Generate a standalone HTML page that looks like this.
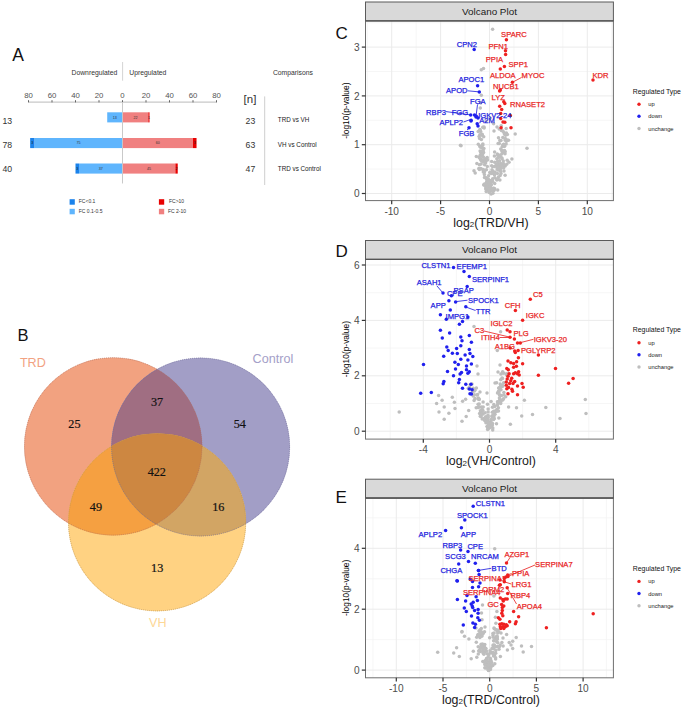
<!DOCTYPE html>
<html><head><meta charset="utf-8"><style>
html,body{margin:0;padding:0;background:#fff;width:685px;height:710px;overflow:hidden}
svg{display:block}

</style></head><body>
<svg width="685" height="710" viewBox="0 0 685 710">
<rect x="0.00" y="0.00" width="685.00" height="710.00" fill="#fff" />
<text x="12.30" y="61.00" font-size="17.5" fill="#111" text-anchor="start" font-family='"Liberation Sans", sans-serif' >A</text>
<text x="71.50" y="74.70" font-size="6.8" fill="#333" text-anchor="start" font-family='"Liberation Sans", sans-serif' >Downregulated</text>
<text x="129.30" y="74.70" font-size="6.8" fill="#333" text-anchor="start" font-family='"Liberation Sans", sans-serif' >Upregulated</text>
<text x="272.90" y="74.70" font-size="6.8" fill="#333" text-anchor="start" font-family='"Liberation Sans", sans-serif' >Comparisons</text>
<line x1="122.60" y1="62.00" x2="122.60" y2="80.70" stroke="#cfcfcf" stroke-width="0.9" />
<line x1="28.50" y1="102.10" x2="216.50" y2="102.10" stroke="#a8a8a8" stroke-width="0.8" />
<line x1="28.50" y1="100.20" x2="28.50" y2="102.40" stroke="#555" stroke-width="0.9" />
<text x="28.50" y="98.00" font-size="7.8" fill="#555" text-anchor="middle" font-family='"Liberation Sans", sans-serif' >80</text>
<line x1="52.00" y1="100.20" x2="52.00" y2="102.40" stroke="#555" stroke-width="0.9" />
<text x="52.00" y="98.00" font-size="7.8" fill="#555" text-anchor="middle" font-family='"Liberation Sans", sans-serif' >60</text>
<line x1="75.50" y1="100.20" x2="75.50" y2="102.40" stroke="#555" stroke-width="0.9" />
<text x="75.50" y="98.00" font-size="7.8" fill="#555" text-anchor="middle" font-family='"Liberation Sans", sans-serif' >40</text>
<line x1="99.00" y1="100.20" x2="99.00" y2="102.40" stroke="#555" stroke-width="0.9" />
<text x="99.00" y="98.00" font-size="7.8" fill="#555" text-anchor="middle" font-family='"Liberation Sans", sans-serif' >20</text>
<line x1="122.50" y1="100.20" x2="122.50" y2="102.40" stroke="#555" stroke-width="0.9" />
<text x="122.50" y="98.00" font-size="7.8" fill="#555" text-anchor="middle" font-family='"Liberation Sans", sans-serif' >0</text>
<line x1="146.00" y1="100.20" x2="146.00" y2="102.40" stroke="#555" stroke-width="0.9" />
<text x="146.00" y="98.00" font-size="7.8" fill="#555" text-anchor="middle" font-family='"Liberation Sans", sans-serif' >20</text>
<line x1="169.50" y1="100.20" x2="169.50" y2="102.40" stroke="#555" stroke-width="0.9" />
<text x="169.50" y="98.00" font-size="7.8" fill="#555" text-anchor="middle" font-family='"Liberation Sans", sans-serif' >40</text>
<line x1="193.00" y1="100.20" x2="193.00" y2="102.40" stroke="#555" stroke-width="0.9" />
<text x="193.00" y="98.00" font-size="7.8" fill="#555" text-anchor="middle" font-family='"Liberation Sans", sans-serif' >60</text>
<line x1="216.50" y1="100.20" x2="216.50" y2="102.40" stroke="#555" stroke-width="0.9" />
<text x="216.50" y="98.00" font-size="7.8" fill="#555" text-anchor="middle" font-family='"Liberation Sans", sans-serif' >80</text>
<line x1="122.50" y1="102.00" x2="122.50" y2="183.30" stroke="#c8c8c8" stroke-width="0.9" />
<rect x="107.22" y="112.30" width="15.28" height="10.10" fill="#5fb5fd" />
<rect x="122.50" y="112.30" width="25.85" height="10.10" fill="#f08080" />
<rect x="148.35" y="112.30" width="1.18" height="10.10" fill="#e80000" />
<text x="114.86" y="118.65" font-size="3.6" fill="#333" text-anchor="middle" font-family='"Liberation Sans", sans-serif' >13</text>
<text x="135.43" y="118.65" font-size="3.6" fill="#333" text-anchor="middle" font-family='"Liberation Sans", sans-serif' >22</text>
<text x="148.94" y="118.65" font-size="3.6" fill="#222" text-anchor="middle" font-family='"Liberation Sans", sans-serif' >1</text>
<rect x="34.38" y="138.00" width="88.12" height="10.10" fill="#5fb5fd" />
<rect x="30.15" y="138.00" width="4.23" height="10.10" fill="#1a82eb" />
<rect x="122.50" y="138.00" width="70.50" height="10.10" fill="#f08080" />
<rect x="193.00" y="138.00" width="3.53" height="10.10" fill="#e80000" />
<text x="78.44" y="144.35" font-size="3.6" fill="#333" text-anchor="middle" font-family='"Liberation Sans", sans-serif' >75</text>
<text x="157.75" y="144.35" font-size="3.6" fill="#333" text-anchor="middle" font-family='"Liberation Sans", sans-serif' >60</text>
<text x="32.26" y="144.35" font-size="3.6" fill="#222" text-anchor="middle" font-family='"Liberation Sans", sans-serif' >3</text>
<text x="194.76" y="144.35" font-size="3.6" fill="#222" text-anchor="middle" font-family='"Liberation Sans", sans-serif' >3</text>
<rect x="79.03" y="163.50" width="43.48" height="10.10" fill="#5fb5fd" />
<rect x="75.50" y="163.50" width="3.53" height="10.10" fill="#1a82eb" />
<rect x="122.50" y="163.50" width="52.88" height="10.10" fill="#f08080" />
<rect x="175.38" y="163.50" width="2.35" height="10.10" fill="#e80000" />
<text x="100.76" y="169.85" font-size="3.6" fill="#333" text-anchor="middle" font-family='"Liberation Sans", sans-serif' >37</text>
<text x="148.94" y="169.85" font-size="3.6" fill="#333" text-anchor="middle" font-family='"Liberation Sans", sans-serif' >45</text>
<text x="77.26" y="169.85" font-size="3.6" fill="#222" text-anchor="middle" font-family='"Liberation Sans", sans-serif' >3</text>
<text x="176.55" y="169.85" font-size="3.6" fill="#222" text-anchor="middle" font-family='"Liberation Sans", sans-serif' >2</text>
<line x1="122.50" y1="102.00" x2="122.50" y2="183.30" stroke="#c8c8c8" stroke-width="0.9" />
<text x="2.40" y="124.00" font-size="8.7" fill="#333" text-anchor="start" font-family='"Liberation Sans", sans-serif' >13</text>
<text x="2.40" y="147.90" font-size="8.7" fill="#333" text-anchor="start" font-family='"Liberation Sans", sans-serif' >78</text>
<text x="2.40" y="172.00" font-size="8.7" fill="#333" text-anchor="start" font-family='"Liberation Sans", sans-serif' >40</text>
<text x="243.60" y="103.00" font-size="11.5" fill="#333" text-anchor="start" font-family='"Liberation Sans", sans-serif' >[n]</text>
<line x1="264.70" y1="96.40" x2="264.70" y2="185.00" stroke="#c8c8c8" stroke-width="0.9" />
<text x="245.60" y="123.60" font-size="8.7" fill="#333" text-anchor="start" font-family='"Liberation Sans", sans-serif' >23</text>
<text x="245.60" y="148.20" font-size="8.7" fill="#333" text-anchor="start" font-family='"Liberation Sans", sans-serif' >63</text>
<text x="245.60" y="171.90" font-size="8.7" fill="#333" text-anchor="start" font-family='"Liberation Sans", sans-serif' >47</text>
<text x="277.80" y="122.30" font-size="6.3" fill="#222" text-anchor="start" font-family='"Liberation Sans", sans-serif' >TRD vs VH</text>
<text x="277.80" y="147.30" font-size="6.3" fill="#222" text-anchor="start" font-family='"Liberation Sans", sans-serif' >VH vs Control</text>
<text x="277.80" y="170.80" font-size="6.3" fill="#222" text-anchor="start" font-family='"Liberation Sans", sans-serif' >TRD vs Control</text>
<rect x="69.60" y="199.20" width="5.20" height="5.50" fill="#1a82eb" />
<rect x="69.60" y="208.80" width="5.20" height="5.50" fill="#5fb5fd" />
<rect x="158.90" y="199.20" width="5.30" height="5.50" fill="#e80000" />
<rect x="158.90" y="208.80" width="5.30" height="5.50" fill="#f08080" />
<text x="78.80" y="203.30" font-size="5.0" fill="#333" text-anchor="start" font-family='"Liberation Sans", sans-serif' >FC&lt;0.1</text>
<text x="78.80" y="212.90" font-size="5.0" fill="#333" text-anchor="start" font-family='"Liberation Sans", sans-serif' >FC 0.1-0.5</text>
<text x="169.00" y="203.30" font-size="5.0" fill="#333" text-anchor="start" font-family='"Liberation Sans", sans-serif' >FC&gt;10</text>
<text x="168.00" y="212.90" font-size="5.0" fill="#333" text-anchor="start" font-family='"Liberation Sans", sans-serif' >FC 2-10</text>
<text x="17.40" y="341.00" font-size="16.5" fill="#111" text-anchor="start" font-family='"Liberation Sans", sans-serif' >B</text>
<defs>
<clipPath id="cT"><circle cx="113.2" cy="446.4" r="89.0"/></clipPath>
<clipPath id="cK"><circle cx="200.6" cy="447.0" r="89.3"/></clipPath>
<clipPath id="cTK" clip-path="url(#cT)"><circle cx="200.6" cy="447.0" r="89.3"/></clipPath>
</defs>
<circle cx="113.2" cy="446.4" r="89.0" fill="#f2a280"/>
<circle cx="200.6" cy="447.0" r="89.3" fill="#a29ec6"/>
<circle cx="157.1" cy="522.3" r="88.9" fill="#ffd282"/>
<circle cx="200.6" cy="447.0" r="89.3" fill="#a06e82" clip-path="url(#cT)"/>
<circle cx="157.1" cy="522.3" r="88.9" fill="#f5a041" clip-path="url(#cT)"/>
<circle cx="157.1" cy="522.3" r="88.9" fill="#d2a564" clip-path="url(#cK)"/>
<circle cx="157.1" cy="522.3" r="88.9" fill="#cd8741" clip-path="url(#cTK)"/>
<circle cx="113.2" cy="446.4" r="88.7" fill="none" stroke="#b07060" stroke-width="0.7" stroke-dasharray="1 1" opacity="0.9"/>
<circle cx="200.6" cy="447.0" r="89.0" fill="none" stroke="#706c98" stroke-width="0.7" stroke-dasharray="1 1" opacity="0.9"/>
<circle cx="157.1" cy="522.3" r="88.60000000000001" fill="none" stroke="#b89050" stroke-width="0.7" stroke-dasharray="1 1" opacity="0.9"/>
<text x="19.90" y="367.20" font-size="12.6" fill="#f2a282" text-anchor="start" font-family='"Liberation Sans", sans-serif' >TRD</text>
<text x="252.60" y="362.70" font-size="12.6" fill="#a4a0c8" text-anchor="start" font-family='"Liberation Sans", sans-serif' >Control</text>
<text x="149.00" y="627.00" font-size="12.6" fill="#fdd796" text-anchor="start" font-family='"Liberation Sans", sans-serif' >VH</text>
<text x="74.40" y="428.20" font-size="12.2" fill="#111" text-anchor="middle" font-family='"Liberation Serif", serif' stroke="#111" stroke-width="0.2">25</text>
<text x="157.00" y="405.80" font-size="12.2" fill="#111" text-anchor="middle" font-family='"Liberation Serif", serif' stroke="#111" stroke-width="0.2">37</text>
<text x="239.80" y="428.40" font-size="12.2" fill="#111" text-anchor="middle" font-family='"Liberation Serif", serif' stroke="#111" stroke-width="0.2">54</text>
<text x="156.80" y="476.10" font-size="12.2" fill="#111" text-anchor="middle" font-family='"Liberation Serif", serif' stroke="#111" stroke-width="0.2">422</text>
<text x="95.90" y="510.70" font-size="12.2" fill="#111" text-anchor="middle" font-family='"Liberation Serif", serif' stroke="#111" stroke-width="0.2">49</text>
<text x="218.30" y="510.70" font-size="12.2" fill="#111" text-anchor="middle" font-family='"Liberation Serif", serif' stroke="#111" stroke-width="0.2">16</text>
<text x="157.20" y="571.60" font-size="12.2" fill="#111" text-anchor="middle" font-family='"Liberation Serif", serif' stroke="#111" stroke-width="0.2">13</text>
<rect x="365.50" y="20.80" width="247.90" height="179.80" fill="#fff" />
<line x1="365.50" y1="169.10" x2="613.40" y2="169.10" stroke="#f2f2f2" stroke-width="0.7" />
<line x1="365.50" y1="120.30" x2="613.40" y2="120.30" stroke="#f2f2f2" stroke-width="0.7" />
<line x1="365.50" y1="71.50" x2="613.40" y2="71.50" stroke="#f2f2f2" stroke-width="0.7" />
<line x1="365.50" y1="22.70" x2="613.40" y2="22.70" stroke="#f2f2f2" stroke-width="0.7" />
<line x1="367.25" y1="20.80" x2="367.25" y2="200.60" stroke="#f2f2f2" stroke-width="0.7" />
<line x1="416.15" y1="20.80" x2="416.15" y2="200.60" stroke="#f2f2f2" stroke-width="0.7" />
<line x1="465.05" y1="20.80" x2="465.05" y2="200.60" stroke="#f2f2f2" stroke-width="0.7" />
<line x1="513.95" y1="20.80" x2="513.95" y2="200.60" stroke="#f2f2f2" stroke-width="0.7" />
<line x1="562.85" y1="20.80" x2="562.85" y2="200.60" stroke="#f2f2f2" stroke-width="0.7" />
<line x1="611.75" y1="20.80" x2="611.75" y2="200.60" stroke="#f2f2f2" stroke-width="0.7" />
<line x1="365.50" y1="193.50" x2="613.40" y2="193.50" stroke="#ebebeb" stroke-width="1.0" />
<line x1="365.50" y1="144.70" x2="613.40" y2="144.70" stroke="#ebebeb" stroke-width="1.0" />
<line x1="365.50" y1="95.90" x2="613.40" y2="95.90" stroke="#ebebeb" stroke-width="1.0" />
<line x1="365.50" y1="47.10" x2="613.40" y2="47.10" stroke="#ebebeb" stroke-width="1.0" />
<line x1="391.70" y1="20.80" x2="391.70" y2="200.60" stroke="#ebebeb" stroke-width="1.0" />
<line x1="440.60" y1="20.80" x2="440.60" y2="200.60" stroke="#ebebeb" stroke-width="1.0" />
<line x1="489.50" y1="20.80" x2="489.50" y2="200.60" stroke="#ebebeb" stroke-width="1.0" />
<line x1="538.40" y1="20.80" x2="538.40" y2="200.60" stroke="#ebebeb" stroke-width="1.0" />
<line x1="587.30" y1="20.80" x2="587.30" y2="200.60" stroke="#ebebeb" stroke-width="1.0" />
<circle cx="478.8" cy="168.6" r="1.75" fill="#bebebe"/>
<circle cx="480.2" cy="168.6" r="1.75" fill="#bebebe"/>
<circle cx="484.6" cy="184.6" r="1.75" fill="#bebebe"/>
<circle cx="482.6" cy="145.3" r="1.75" fill="#bebebe"/>
<circle cx="489.7" cy="187.2" r="1.75" fill="#bebebe"/>
<circle cx="494.1" cy="190.2" r="1.75" fill="#bebebe"/>
<circle cx="481.0" cy="154.9" r="1.75" fill="#bebebe"/>
<circle cx="488.8" cy="191.2" r="1.75" fill="#bebebe"/>
<circle cx="487.2" cy="184.7" r="1.75" fill="#bebebe"/>
<circle cx="479.4" cy="169.5" r="1.75" fill="#bebebe"/>
<circle cx="481.1" cy="164.0" r="1.75" fill="#bebebe"/>
<circle cx="480.3" cy="155.0" r="1.75" fill="#bebebe"/>
<circle cx="484.1" cy="128.1" r="1.75" fill="#bebebe"/>
<circle cx="481.0" cy="152.1" r="1.75" fill="#bebebe"/>
<circle cx="488.4" cy="180.1" r="1.75" fill="#bebebe"/>
<circle cx="484.4" cy="171.9" r="1.75" fill="#bebebe"/>
<circle cx="480.7" cy="131.5" r="1.75" fill="#bebebe"/>
<circle cx="488.6" cy="182.8" r="1.75" fill="#bebebe"/>
<circle cx="480.0" cy="129.9" r="1.75" fill="#bebebe"/>
<circle cx="482.3" cy="156.3" r="1.75" fill="#bebebe"/>
<circle cx="486.2" cy="191.5" r="1.75" fill="#bebebe"/>
<circle cx="482.4" cy="148.1" r="1.75" fill="#bebebe"/>
<circle cx="491.6" cy="189.1" r="1.75" fill="#bebebe"/>
<circle cx="485.4" cy="184.6" r="1.75" fill="#bebebe"/>
<circle cx="487.0" cy="183.8" r="1.75" fill="#bebebe"/>
<circle cx="483.4" cy="156.9" r="1.75" fill="#bebebe"/>
<circle cx="486.1" cy="186.3" r="1.75" fill="#bebebe"/>
<circle cx="479.9" cy="146.2" r="1.75" fill="#bebebe"/>
<circle cx="483.9" cy="184.8" r="1.75" fill="#bebebe"/>
<circle cx="486.6" cy="158.3" r="1.75" fill="#bebebe"/>
<circle cx="486.6" cy="185.2" r="1.75" fill="#bebebe"/>
<circle cx="484.5" cy="177.5" r="1.75" fill="#bebebe"/>
<circle cx="487.4" cy="188.4" r="1.75" fill="#bebebe"/>
<circle cx="480.7" cy="160.1" r="1.75" fill="#bebebe"/>
<circle cx="478.2" cy="131.6" r="1.75" fill="#bebebe"/>
<circle cx="481.4" cy="139.6" r="1.75" fill="#bebebe"/>
<circle cx="481.4" cy="134.8" r="1.75" fill="#bebebe"/>
<circle cx="486.8" cy="181.7" r="1.75" fill="#bebebe"/>
<circle cx="490.8" cy="183.4" r="1.75" fill="#bebebe"/>
<circle cx="481.3" cy="159.3" r="1.75" fill="#bebebe"/>
<circle cx="490.6" cy="190.4" r="1.75" fill="#bebebe"/>
<circle cx="481.5" cy="153.7" r="1.75" fill="#bebebe"/>
<circle cx="481.8" cy="160.3" r="1.75" fill="#bebebe"/>
<circle cx="482.8" cy="150.8" r="1.75" fill="#bebebe"/>
<circle cx="483.9" cy="160.9" r="1.75" fill="#bebebe"/>
<circle cx="486.7" cy="179.4" r="1.75" fill="#bebebe"/>
<circle cx="489.2" cy="192.4" r="1.75" fill="#bebebe"/>
<circle cx="489.8" cy="190.9" r="1.75" fill="#bebebe"/>
<circle cx="483.5" cy="162.1" r="1.75" fill="#bebebe"/>
<circle cx="483.7" cy="136.8" r="1.75" fill="#bebebe"/>
<circle cx="480.8" cy="152.3" r="1.75" fill="#bebebe"/>
<circle cx="493.4" cy="191.0" r="1.75" fill="#bebebe"/>
<circle cx="482.0" cy="151.8" r="1.75" fill="#bebebe"/>
<circle cx="478.9" cy="156.9" r="1.75" fill="#bebebe"/>
<circle cx="485.6" cy="177.6" r="1.75" fill="#bebebe"/>
<circle cx="482.1" cy="160.7" r="1.75" fill="#bebebe"/>
<circle cx="480.5" cy="147.2" r="1.75" fill="#bebebe"/>
<circle cx="479.1" cy="136.4" r="1.75" fill="#bebebe"/>
<circle cx="482.2" cy="135.3" r="1.75" fill="#bebebe"/>
<circle cx="482.9" cy="143.9" r="1.75" fill="#bebebe"/>
<circle cx="480.2" cy="158.5" r="1.75" fill="#bebebe"/>
<circle cx="484.5" cy="159.5" r="1.75" fill="#bebebe"/>
<circle cx="482.8" cy="127.3" r="1.75" fill="#bebebe"/>
<circle cx="483.3" cy="172.1" r="1.75" fill="#bebebe"/>
<circle cx="483.3" cy="169.9" r="1.75" fill="#bebebe"/>
<circle cx="483.9" cy="148.4" r="1.75" fill="#bebebe"/>
<circle cx="483.1" cy="169.4" r="1.75" fill="#bebebe"/>
<circle cx="479.4" cy="164.8" r="1.75" fill="#bebebe"/>
<circle cx="487.6" cy="181.1" r="1.75" fill="#bebebe"/>
<circle cx="482.1" cy="154.3" r="1.75" fill="#bebebe"/>
<circle cx="479.8" cy="134.8" r="1.75" fill="#bebebe"/>
<circle cx="479.6" cy="138.4" r="1.75" fill="#bebebe"/>
<circle cx="483.9" cy="184.9" r="1.75" fill="#bebebe"/>
<circle cx="482.2" cy="134.3" r="1.75" fill="#bebebe"/>
<circle cx="481.8" cy="161.1" r="1.75" fill="#bebebe"/>
<circle cx="484.6" cy="164.7" r="1.75" fill="#bebebe"/>
<circle cx="483.0" cy="150.8" r="1.75" fill="#bebebe"/>
<circle cx="486.0" cy="185.7" r="1.75" fill="#bebebe"/>
<circle cx="484.5" cy="184.1" r="1.75" fill="#bebebe"/>
<circle cx="481.2" cy="168.7" r="1.75" fill="#bebebe"/>
<circle cx="479.9" cy="129.6" r="1.75" fill="#bebebe"/>
<circle cx="489.7" cy="190.6" r="1.75" fill="#bebebe"/>
<circle cx="480.1" cy="150.9" r="1.75" fill="#bebebe"/>
<circle cx="482.3" cy="145.0" r="1.75" fill="#bebebe"/>
<circle cx="486.4" cy="169.7" r="1.75" fill="#bebebe"/>
<circle cx="486.7" cy="182.3" r="1.75" fill="#bebebe"/>
<circle cx="479.5" cy="157.7" r="1.75" fill="#bebebe"/>
<circle cx="483.6" cy="152.6" r="1.75" fill="#bebebe"/>
<circle cx="482.4" cy="154.3" r="1.75" fill="#bebebe"/>
<circle cx="489.5" cy="185.1" r="1.75" fill="#bebebe"/>
<circle cx="502.9" cy="152.4" r="1.75" fill="#bebebe"/>
<circle cx="494.2" cy="173.9" r="1.75" fill="#bebebe"/>
<circle cx="500.2" cy="156.5" r="1.75" fill="#bebebe"/>
<circle cx="503.8" cy="144.6" r="1.75" fill="#bebebe"/>
<circle cx="503.9" cy="132.6" r="1.75" fill="#bebebe"/>
<circle cx="492.6" cy="166.5" r="1.75" fill="#bebebe"/>
<circle cx="490.2" cy="172.6" r="1.75" fill="#bebebe"/>
<circle cx="506.1" cy="143.9" r="1.75" fill="#bebebe"/>
<circle cx="502.1" cy="158.7" r="1.75" fill="#bebebe"/>
<circle cx="499.8" cy="140.6" r="1.75" fill="#bebebe"/>
<circle cx="499.9" cy="180.1" r="1.75" fill="#bebebe"/>
<circle cx="499.2" cy="129.1" r="1.75" fill="#bebebe"/>
<circle cx="500.2" cy="175.5" r="1.75" fill="#bebebe"/>
<circle cx="498.5" cy="177.0" r="1.75" fill="#bebebe"/>
<circle cx="499.5" cy="160.7" r="1.75" fill="#bebebe"/>
<circle cx="490.2" cy="190.3" r="1.75" fill="#bebebe"/>
<circle cx="504.1" cy="145.9" r="1.75" fill="#bebebe"/>
<circle cx="503.8" cy="146.2" r="1.75" fill="#bebebe"/>
<circle cx="497.5" cy="161.6" r="1.75" fill="#bebebe"/>
<circle cx="504.9" cy="152.1" r="1.75" fill="#bebebe"/>
<circle cx="506.4" cy="133.0" r="1.75" fill="#bebebe"/>
<circle cx="497.4" cy="167.6" r="1.75" fill="#bebebe"/>
<circle cx="494.4" cy="156.1" r="1.75" fill="#bebebe"/>
<circle cx="498.0" cy="164.0" r="1.75" fill="#bebebe"/>
<circle cx="505.0" cy="140.0" r="1.75" fill="#bebebe"/>
<circle cx="507.1" cy="139.9" r="1.75" fill="#bebebe"/>
<circle cx="500.6" cy="163.6" r="1.75" fill="#bebebe"/>
<circle cx="497.7" cy="165.9" r="1.75" fill="#bebebe"/>
<circle cx="501.4" cy="130.4" r="1.75" fill="#bebebe"/>
<circle cx="499.3" cy="143.4" r="1.75" fill="#bebebe"/>
<circle cx="505.0" cy="153.7" r="1.75" fill="#bebebe"/>
<circle cx="504.0" cy="170.9" r="1.75" fill="#bebebe"/>
<circle cx="492.1" cy="180.5" r="1.75" fill="#bebebe"/>
<circle cx="500.0" cy="167.0" r="1.75" fill="#bebebe"/>
<circle cx="497.1" cy="169.1" r="1.75" fill="#bebebe"/>
<circle cx="501.7" cy="157.7" r="1.75" fill="#bebebe"/>
<circle cx="504.6" cy="146.2" r="1.75" fill="#bebebe"/>
<circle cx="491.8" cy="181.0" r="1.75" fill="#bebebe"/>
<circle cx="494.5" cy="174.9" r="1.75" fill="#bebebe"/>
<circle cx="504.8" cy="151.4" r="1.75" fill="#bebebe"/>
<circle cx="494.7" cy="183.6" r="1.75" fill="#bebebe"/>
<circle cx="495.0" cy="172.0" r="1.75" fill="#bebebe"/>
<circle cx="499.9" cy="165.5" r="1.75" fill="#bebebe"/>
<circle cx="497.8" cy="155.4" r="1.75" fill="#bebebe"/>
<circle cx="498.5" cy="137.8" r="1.75" fill="#bebebe"/>
<circle cx="492.7" cy="178.8" r="1.75" fill="#bebebe"/>
<circle cx="502.8" cy="137.6" r="1.75" fill="#bebebe"/>
<circle cx="506.4" cy="141.2" r="1.75" fill="#bebebe"/>
<circle cx="505.3" cy="138.4" r="1.75" fill="#bebebe"/>
<circle cx="501.9" cy="151.0" r="1.75" fill="#bebebe"/>
<circle cx="498.1" cy="143.4" r="1.75" fill="#bebebe"/>
<circle cx="487.1" cy="189.0" r="1.75" fill="#bebebe"/>
<circle cx="491.1" cy="193.9" r="1.75" fill="#bebebe"/>
<circle cx="505.5" cy="135.2" r="1.75" fill="#bebebe"/>
<circle cx="498.6" cy="163.7" r="1.75" fill="#bebebe"/>
<circle cx="501.7" cy="153.9" r="1.75" fill="#bebebe"/>
<circle cx="494.7" cy="188.7" r="1.75" fill="#bebebe"/>
<circle cx="496.9" cy="164.9" r="1.75" fill="#bebebe"/>
<circle cx="493.9" cy="188.2" r="1.75" fill="#bebebe"/>
<circle cx="506.2" cy="128.4" r="1.75" fill="#bebebe"/>
<circle cx="493.5" cy="189.2" r="1.75" fill="#bebebe"/>
<circle cx="500.7" cy="149.1" r="1.75" fill="#bebebe"/>
<circle cx="494.6" cy="166.4" r="1.75" fill="#bebebe"/>
<circle cx="487.7" cy="187.7" r="1.75" fill="#bebebe"/>
<circle cx="487.0" cy="185.7" r="1.75" fill="#bebebe"/>
<circle cx="497.4" cy="173.6" r="1.75" fill="#bebebe"/>
<circle cx="505.2" cy="165.9" r="1.75" fill="#bebebe"/>
<circle cx="501.0" cy="140.6" r="1.75" fill="#bebebe"/>
<circle cx="496.8" cy="158.8" r="1.75" fill="#bebebe"/>
<circle cx="504.1" cy="165.7" r="1.75" fill="#bebebe"/>
<circle cx="498.0" cy="179.3" r="1.75" fill="#bebebe"/>
<circle cx="503.8" cy="144.3" r="1.75" fill="#bebebe"/>
<circle cx="507.4" cy="134.6" r="1.75" fill="#bebebe"/>
<circle cx="502.7" cy="145.0" r="1.75" fill="#bebebe"/>
<circle cx="504.6" cy="151.2" r="1.75" fill="#bebebe"/>
<circle cx="500.8" cy="168.6" r="1.75" fill="#bebebe"/>
<circle cx="498.8" cy="155.6" r="1.75" fill="#bebebe"/>
<circle cx="502.9" cy="131.1" r="1.75" fill="#bebebe"/>
<circle cx="497.3" cy="154.1" r="1.75" fill="#bebebe"/>
<circle cx="501.0" cy="173.5" r="1.75" fill="#bebebe"/>
<circle cx="502.2" cy="146.7" r="1.75" fill="#bebebe"/>
<circle cx="485.7" cy="189.0" r="1.75" fill="#bebebe"/>
<circle cx="492.7" cy="181.4" r="1.75" fill="#bebebe"/>
<circle cx="491.3" cy="184.8" r="1.75" fill="#bebebe"/>
<circle cx="496.8" cy="180.0" r="1.75" fill="#bebebe"/>
<circle cx="502.5" cy="165.3" r="1.75" fill="#bebebe"/>
<circle cx="501.2" cy="125.7" r="1.75" fill="#bebebe"/>
<circle cx="485.9" cy="187.5" r="1.75" fill="#bebebe"/>
<circle cx="491.6" cy="189.9" r="1.75" fill="#bebebe"/>
<circle cx="499.7" cy="170.2" r="1.75" fill="#bebebe"/>
<circle cx="507.2" cy="160.3" r="1.75" fill="#bebebe"/>
<circle cx="492.8" cy="171.2" r="1.75" fill="#bebebe"/>
<circle cx="494.8" cy="177.7" r="1.75" fill="#bebebe"/>
<circle cx="498.2" cy="165.2" r="1.75" fill="#bebebe"/>
<circle cx="496.7" cy="179.0" r="1.75" fill="#bebebe"/>
<circle cx="492.9" cy="193.2" r="1.75" fill="#bebebe"/>
<circle cx="500.7" cy="171.6" r="1.75" fill="#bebebe"/>
<circle cx="497.7" cy="189.9" r="1.75" fill="#bebebe"/>
<circle cx="493.1" cy="188.3" r="1.75" fill="#bebebe"/>
<circle cx="500.3" cy="167.6" r="1.75" fill="#bebebe"/>
<circle cx="503.4" cy="163.6" r="1.75" fill="#bebebe"/>
<circle cx="503.6" cy="168.0" r="1.75" fill="#bebebe"/>
<circle cx="503.3" cy="160.9" r="1.75" fill="#bebebe"/>
<circle cx="497.9" cy="169.9" r="1.75" fill="#bebebe"/>
<circle cx="501.2" cy="165.9" r="1.75" fill="#bebebe"/>
<circle cx="498.6" cy="154.9" r="1.75" fill="#bebebe"/>
<circle cx="494.7" cy="162.3" r="1.75" fill="#bebebe"/>
<circle cx="506.7" cy="164.2" r="1.75" fill="#bebebe"/>
<circle cx="502.2" cy="150.5" r="1.75" fill="#bebebe"/>
<circle cx="504.7" cy="134.3" r="1.75" fill="#bebebe"/>
<circle cx="488.0" cy="180.3" r="1.75" fill="#bebebe"/>
<circle cx="492.0" cy="169.8" r="1.75" fill="#bebebe"/>
<circle cx="485.6" cy="163.1" r="1.75" fill="#bebebe"/>
<circle cx="498.6" cy="157.4" r="1.75" fill="#bebebe"/>
<circle cx="489.3" cy="190.8" r="1.75" fill="#bebebe"/>
<circle cx="484.3" cy="170.5" r="1.75" fill="#bebebe"/>
<circle cx="484.4" cy="174.5" r="1.75" fill="#bebebe"/>
<circle cx="491.7" cy="173.6" r="1.75" fill="#bebebe"/>
<circle cx="489.6" cy="180.5" r="1.75" fill="#bebebe"/>
<circle cx="496.3" cy="164.4" r="1.75" fill="#bebebe"/>
<circle cx="489.2" cy="190.6" r="1.75" fill="#bebebe"/>
<circle cx="485.9" cy="161.0" r="1.75" fill="#bebebe"/>
<circle cx="487.5" cy="178.6" r="1.75" fill="#bebebe"/>
<circle cx="497.7" cy="167.1" r="1.75" fill="#bebebe"/>
<circle cx="490.1" cy="182.0" r="1.75" fill="#bebebe"/>
<circle cx="488.6" cy="175.8" r="1.75" fill="#bebebe"/>
<circle cx="490.1" cy="189.9" r="1.75" fill="#bebebe"/>
<circle cx="489.8" cy="172.5" r="1.75" fill="#bebebe"/>
<circle cx="487.3" cy="166.5" r="1.75" fill="#bebebe"/>
<circle cx="490.3" cy="185.7" r="1.75" fill="#bebebe"/>
<circle cx="489.3" cy="189.7" r="1.75" fill="#bebebe"/>
<circle cx="487.7" cy="182.1" r="1.75" fill="#bebebe"/>
<circle cx="491.5" cy="180.5" r="1.75" fill="#bebebe"/>
<circle cx="491.6" cy="165.7" r="1.75" fill="#bebebe"/>
<circle cx="499.8" cy="155.4" r="1.75" fill="#bebebe"/>
<circle cx="487.5" cy="160.0" r="1.75" fill="#bebebe"/>
<circle cx="489.1" cy="184.3" r="1.75" fill="#bebebe"/>
<circle cx="489.0" cy="184.0" r="1.75" fill="#bebebe"/>
<circle cx="488.7" cy="179.8" r="1.75" fill="#bebebe"/>
<circle cx="489.8" cy="187.3" r="1.75" fill="#bebebe"/>
<circle cx="491.6" cy="161.5" r="1.75" fill="#bebebe"/>
<circle cx="490.4" cy="186.1" r="1.75" fill="#bebebe"/>
<circle cx="487.2" cy="157.6" r="1.75" fill="#bebebe"/>
<circle cx="490.9" cy="173.3" r="1.75" fill="#bebebe"/>
<circle cx="494.6" cy="152.0" r="1.75" fill="#bebebe"/>
<circle cx="493.8" cy="172.7" r="1.75" fill="#bebebe"/>
<circle cx="489.1" cy="189.7" r="1.75" fill="#bebebe"/>
<circle cx="489.7" cy="187.7" r="1.75" fill="#bebebe"/>
<circle cx="490.2" cy="187.8" r="1.75" fill="#bebebe"/>
<circle cx="490.7" cy="185.2" r="1.75" fill="#bebebe"/>
<circle cx="492.6" cy="29.2" r="1.75" fill="#bebebe"/>
<circle cx="481.3" cy="69.7" r="1.75" fill="#bebebe"/>
<circle cx="483.5" cy="68.6" r="1.75" fill="#bebebe"/>
<circle cx="481.3" cy="95.2" r="1.75" fill="#bebebe"/>
<circle cx="480.6" cy="102.8" r="1.75" fill="#bebebe"/>
<circle cx="480.3" cy="108.0" r="1.75" fill="#bebebe"/>
<circle cx="493.6" cy="123.7" r="1.75" fill="#bebebe"/>
<circle cx="527.0" cy="148.2" r="1.75" fill="#bebebe"/>
<circle cx="515.2" cy="134.1" r="1.75" fill="#bebebe"/>
<circle cx="461.0" cy="145.7" r="1.75" fill="#bebebe"/>
<circle cx="476.3" cy="156.6" r="1.75" fill="#bebebe"/>
<circle cx="476.9" cy="163.4" r="1.75" fill="#bebebe"/>
<circle cx="474.0" cy="170.7" r="1.75" fill="#bebebe"/>
<circle cx="475.2" cy="173.0" r="1.75" fill="#bebebe"/>
<circle cx="509.0" cy="162.3" r="1.75" fill="#bebebe"/>
<circle cx="511.9" cy="158.9" r="1.75" fill="#bebebe"/>
<circle cx="505.1" cy="175.2" r="1.75" fill="#bebebe"/>
<circle cx="508.5" cy="140.3" r="1.75" fill="#bebebe"/>
<circle cx="506.2" cy="140.3" r="1.75" fill="#bebebe"/>
<circle cx="504.5" cy="150.4" r="1.75" fill="#bebebe"/>
<circle cx="478.3" cy="144.2" r="1.75" fill="#bebebe"/>
<circle cx="460.5" cy="145.2" r="1.75" fill="#bebebe"/>
<circle cx="486.0" cy="121.0" r="1.75" fill="#bebebe"/>
<circle cx="490.0" cy="118.0" r="1.75" fill="#bebebe"/>
<circle cx="494.0" cy="131.0" r="1.75" fill="#bebebe"/>
<circle cx="484.0" cy="127.0" r="1.75" fill="#bebebe"/>
<circle cx="497.0" cy="127.0" r="1.75" fill="#bebebe"/>
<line x1="467.80" y1="90.80" x2="479.30" y2="91.90" stroke="#2222dd" stroke-width="0.85" />
<line x1="446.00" y1="111.60" x2="471.00" y2="115.00" stroke="#2222dd" stroke-width="0.85" />
<line x1="477.50" y1="104.50" x2="476.00" y2="116.50" stroke="#2222dd" stroke-width="0.85" />
<line x1="463.50" y1="122.00" x2="470.50" y2="119.50" stroke="#2222dd" stroke-width="0.85" />
<line x1="467.00" y1="130.00" x2="469.50" y2="128.00" stroke="#2222dd" stroke-width="0.85" />
<line x1="521.50" y1="77.50" x2="512.40" y2="82.30" stroke="#e82626" stroke-width="0.85" />
<circle cx="474.2" cy="49.6" r="1.75" fill="#2020ee"/>
<circle cx="477.6" cy="85.8" r="1.75" fill="#2020ee"/>
<circle cx="479.3" cy="91.9" r="1.75" fill="#2020ee"/>
<circle cx="470.7" cy="114.9" r="1.75" fill="#2020ee"/>
<circle cx="474.5" cy="115.0" r="1.75" fill="#2020ee"/>
<circle cx="476.0" cy="117.0" r="1.75" fill="#2020ee"/>
<circle cx="478.0" cy="118.0" r="1.75" fill="#2020ee"/>
<circle cx="471.0" cy="121.0" r="1.75" fill="#2020ee"/>
<circle cx="471.1" cy="120.2" r="1.75" fill="#2020ee"/>
<circle cx="469.0" cy="127.8" r="1.75" fill="#2020ee"/>
<circle cx="477.2" cy="123.7" r="1.75" fill="#2020ee"/>
<circle cx="478.0" cy="126.0" r="1.75" fill="#2020ee"/>
<circle cx="476.3" cy="116.2" r="1.75" fill="#2020ee"/>
<circle cx="506.4" cy="39.8" r="1.75" fill="#ee2020"/>
<circle cx="505.5" cy="50.8" r="1.75" fill="#ee2020"/>
<circle cx="505.6" cy="54.6" r="1.75" fill="#ee2020"/>
<circle cx="504.4" cy="66.6" r="1.75" fill="#ee2020"/>
<circle cx="500.3" cy="69.0" r="1.75" fill="#ee2020"/>
<circle cx="512.4" cy="82.3" r="1.75" fill="#ee2020"/>
<circle cx="500.3" cy="90.1" r="1.75" fill="#ee2020"/>
<circle cx="503.8" cy="101.7" r="1.75" fill="#ee2020"/>
<circle cx="504.8" cy="103.4" r="1.75" fill="#ee2020"/>
<circle cx="499.7" cy="106.2" r="1.75" fill="#ee2020"/>
<circle cx="501.7" cy="109.4" r="1.75" fill="#ee2020"/>
<circle cx="500.7" cy="113.5" r="1.75" fill="#ee2020"/>
<circle cx="510.3" cy="115.5" r="1.75" fill="#ee2020"/>
<circle cx="500.7" cy="118.6" r="1.75" fill="#ee2020"/>
<circle cx="503.0" cy="122.0" r="1.75" fill="#ee2020"/>
<circle cx="504.8" cy="122.3" r="1.75" fill="#ee2020"/>
<circle cx="501.1" cy="127.8" r="1.75" fill="#ee2020"/>
<circle cx="511.0" cy="127.8" r="1.75" fill="#ee2020"/>
<circle cx="593.0" cy="80.1" r="1.75" fill="#ee2020"/>
<circle cx="499.6" cy="91.0" r="1.75" fill="#ee2020"/>
<text x="501.10" y="37.00" font-size="7.6" fill="#e82626" text-anchor="start" font-family='"Liberation Sans", sans-serif' stroke="#e82626" stroke-width="0.25">SPARC</text>
<text x="488.50" y="48.70" font-size="7.6" fill="#e82626" text-anchor="start" font-family='"Liberation Sans", sans-serif' stroke="#e82626" stroke-width="0.25">PFN1</text>
<text x="456.80" y="47.20" font-size="7.6" fill="#2222dd" text-anchor="start" font-family='"Liberation Sans", sans-serif' stroke="#2222dd" stroke-width="0.25">CPN2</text>
<text x="485.80" y="61.50" font-size="7.6" fill="#e82626" text-anchor="start" font-family='"Liberation Sans", sans-serif' stroke="#e82626" stroke-width="0.25">PPIA</text>
<text x="508.50" y="66.60" font-size="7.6" fill="#e82626" text-anchor="start" font-family='"Liberation Sans", sans-serif' stroke="#e82626" stroke-width="0.25">SPP1</text>
<text x="489.90" y="77.90" font-size="7.6" fill="#e82626" text-anchor="start" font-family='"Liberation Sans", sans-serif' stroke="#e82626" stroke-width="0.25">ALDOA</text>
<text x="521.60" y="77.90" font-size="7.6" fill="#e82626" text-anchor="start" font-family='"Liberation Sans", sans-serif' stroke="#e82626" stroke-width="0.25">MYOC</text>
<text x="592.50" y="78.10" font-size="7.6" fill="#e82626" text-anchor="start" font-family='"Liberation Sans", sans-serif' stroke="#e82626" stroke-width="0.25">KDR</text>
<text x="458.40" y="82.40" font-size="7.6" fill="#2222dd" text-anchor="start" font-family='"Liberation Sans", sans-serif' stroke="#2222dd" stroke-width="0.25">APOC1</text>
<text x="493.00" y="89.10" font-size="7.6" fill="#e82626" text-anchor="start" font-family='"Liberation Sans", sans-serif' stroke="#e82626" stroke-width="0.25">NUCB1</text>
<text x="446.00" y="93.20" font-size="7.6" fill="#2222dd" text-anchor="start" font-family='"Liberation Sans", sans-serif' stroke="#2222dd" stroke-width="0.25">APOD</text>
<text x="491.50" y="100.40" font-size="7.6" fill="#e82626" text-anchor="start" font-family='"Liberation Sans", sans-serif' stroke="#e82626" stroke-width="0.25">LYZ</text>
<text x="470.00" y="104.00" font-size="7.6" fill="#2222dd" text-anchor="start" font-family='"Liberation Sans", sans-serif' stroke="#2222dd" stroke-width="0.25">FGA</text>
<text x="510.00" y="106.50" font-size="7.6" fill="#e82626" text-anchor="start" font-family='"Liberation Sans", sans-serif' stroke="#e82626" stroke-width="0.25">RNASET2</text>
<text x="426.10" y="114.60" font-size="7.6" fill="#2222dd" text-anchor="start" font-family='"Liberation Sans", sans-serif' stroke="#2222dd" stroke-width="0.25">RBP3</text>
<text x="451.70" y="114.60" font-size="7.6" fill="#2222dd" text-anchor="start" font-family='"Liberation Sans", sans-serif' stroke="#2222dd" stroke-width="0.25">FGG</text>
<text x="478.20" y="118.20" font-size="7.6" fill="#2222dd" text-anchor="start" font-family='"Liberation Sans", sans-serif' stroke="#2222dd" stroke-width="0.25">IGKV2-24</text>
<text x="479.30" y="123.40" font-size="7.6" fill="#2222dd" text-anchor="start" font-family='"Liberation Sans", sans-serif' stroke="#2222dd" stroke-width="0.25">A2M</text>
<text x="439.40" y="125.40" font-size="7.6" fill="#2222dd" text-anchor="start" font-family='"Liberation Sans", sans-serif' stroke="#2222dd" stroke-width="0.25">APLP2</text>
<text x="458.80" y="136.20" font-size="7.6" fill="#2222dd" text-anchor="start" font-family='"Liberation Sans", sans-serif' stroke="#2222dd" stroke-width="0.25">FGB</text>
<rect x="365.5" y="20.8" width="247.89999999999998" height="179.79999999999998" fill="none" stroke="#6e6e6e" stroke-width="1"/>
<rect x="365.5" y="2.0" width="247.89999999999998" height="18.8" fill="#d9d9d9" stroke="#5a5a5a" stroke-width="1"/>
<line x1="365.50" y1="20.80" x2="613.40" y2="20.80" stroke="#555" stroke-width="1.3" />
<text x="489.45" y="14.90" font-size="9.9" fill="#1a1a1a" text-anchor="middle" font-family='"Liberation Sans", sans-serif' >Volcano Plot</text>
<text x="335.50" y="39.40" font-size="17" fill="#111" text-anchor="start" font-family='"Liberation Sans", sans-serif' >C</text>
<line x1="361.80" y1="193.50" x2="365.50" y2="193.50" stroke="#333" stroke-width="1.2" />
<text x="359.50" y="197.10" font-size="10.1" fill="#4d4d4d" text-anchor="end" font-family='"Liberation Sans", sans-serif' >0</text>
<line x1="361.80" y1="144.70" x2="365.50" y2="144.70" stroke="#333" stroke-width="1.2" />
<text x="359.50" y="148.30" font-size="10.1" fill="#4d4d4d" text-anchor="end" font-family='"Liberation Sans", sans-serif' >1</text>
<line x1="361.80" y1="95.90" x2="365.50" y2="95.90" stroke="#333" stroke-width="1.2" />
<text x="359.50" y="99.50" font-size="10.1" fill="#4d4d4d" text-anchor="end" font-family='"Liberation Sans", sans-serif' >2</text>
<line x1="361.80" y1="47.10" x2="365.50" y2="47.10" stroke="#333" stroke-width="1.2" />
<text x="359.50" y="50.70" font-size="10.1" fill="#4d4d4d" text-anchor="end" font-family='"Liberation Sans", sans-serif' >3</text>
<line x1="391.70" y1="200.60" x2="391.70" y2="204.20" stroke="#333" stroke-width="1.2" />
<text x="391.70" y="214.60" font-size="10.1" fill="#4d4d4d" text-anchor="middle" font-family='"Liberation Sans", sans-serif' >-10</text>
<line x1="440.60" y1="200.60" x2="440.60" y2="204.20" stroke="#333" stroke-width="1.2" />
<text x="440.60" y="214.60" font-size="10.1" fill="#4d4d4d" text-anchor="middle" font-family='"Liberation Sans", sans-serif' >-5</text>
<line x1="489.50" y1="200.60" x2="489.50" y2="204.20" stroke="#333" stroke-width="1.2" />
<text x="489.50" y="214.60" font-size="10.1" fill="#4d4d4d" text-anchor="middle" font-family='"Liberation Sans", sans-serif' >0</text>
<line x1="538.40" y1="200.60" x2="538.40" y2="204.20" stroke="#333" stroke-width="1.2" />
<text x="538.40" y="214.60" font-size="10.1" fill="#4d4d4d" text-anchor="middle" font-family='"Liberation Sans", sans-serif' >5</text>
<line x1="587.30" y1="200.60" x2="587.30" y2="204.20" stroke="#333" stroke-width="1.2" />
<text x="587.30" y="214.60" font-size="10.1" fill="#4d4d4d" text-anchor="middle" font-family='"Liberation Sans", sans-serif' >10</text>
<text x="490.95" y="226.60" font-size="12.4" fill="#1a1a1a" text-anchor="middle" font-family='"Liberation Sans", sans-serif'>log<tspan font-size="8" dy="0.5">2</tspan><tspan dy="-0.5">(TRD/VH)</tspan></text>
<text x="0" y="0" font-size="8.4" fill="#000" text-anchor="middle" font-family='"Liberation Sans", sans-serif' transform="translate(348.8 110.70) rotate(-90)">-log10(p-value)</text>
<text x="632.80" y="93.70" font-size="6.9" fill="#111" text-anchor="start" font-family='"Liberation Sans", sans-serif' >Regulated Type</text>
<circle cx="639" cy="104.2" r="1.7" fill="#ee2020"/>
<text x="648.30" y="106.20" font-size="5.75" fill="#222" text-anchor="start" font-family='"Liberation Sans", sans-serif' >up</text>
<circle cx="639" cy="116.3" r="1.7" fill="#2020ee"/>
<text x="648.30" y="118.30" font-size="5.75" fill="#222" text-anchor="start" font-family='"Liberation Sans", sans-serif' >down</text>
<circle cx="639" cy="128.5" r="1.7" fill="#bebebe"/>
<text x="648.30" y="130.50" font-size="5.75" fill="#222" text-anchor="start" font-family='"Liberation Sans", sans-serif' >unchange</text>
<rect x="365.50" y="259.30" width="247.90" height="179.80" fill="#fff" />
<line x1="365.50" y1="403.50" x2="613.40" y2="403.50" stroke="#f2f2f2" stroke-width="0.7" />
<line x1="365.50" y1="348.10" x2="613.40" y2="348.10" stroke="#f2f2f2" stroke-width="0.7" />
<line x1="365.50" y1="292.70" x2="613.40" y2="292.70" stroke="#f2f2f2" stroke-width="0.7" />
<line x1="390.20" y1="259.30" x2="390.20" y2="439.10" stroke="#f2f2f2" stroke-width="0.7" />
<line x1="456.40" y1="259.30" x2="456.40" y2="439.10" stroke="#f2f2f2" stroke-width="0.7" />
<line x1="522.60" y1="259.30" x2="522.60" y2="439.10" stroke="#f2f2f2" stroke-width="0.7" />
<line x1="588.80" y1="259.30" x2="588.80" y2="439.10" stroke="#f2f2f2" stroke-width="0.7" />
<line x1="365.50" y1="431.20" x2="613.40" y2="431.20" stroke="#ebebeb" stroke-width="1.0" />
<line x1="365.50" y1="375.80" x2="613.40" y2="375.80" stroke="#ebebeb" stroke-width="1.0" />
<line x1="365.50" y1="320.40" x2="613.40" y2="320.40" stroke="#ebebeb" stroke-width="1.0" />
<line x1="365.50" y1="265.00" x2="613.40" y2="265.00" stroke="#ebebeb" stroke-width="1.0" />
<line x1="423.30" y1="259.30" x2="423.30" y2="439.10" stroke="#ebebeb" stroke-width="1.0" />
<line x1="489.50" y1="259.30" x2="489.50" y2="439.10" stroke="#ebebeb" stroke-width="1.0" />
<line x1="555.70" y1="259.30" x2="555.70" y2="439.10" stroke="#ebebeb" stroke-width="1.0" />
<circle cx="476.4" cy="388.0" r="1.75" fill="#bebebe"/>
<circle cx="487.1" cy="426.5" r="1.75" fill="#bebebe"/>
<circle cx="482.0" cy="409.2" r="1.75" fill="#bebebe"/>
<circle cx="483.1" cy="414.0" r="1.75" fill="#bebebe"/>
<circle cx="492.7" cy="430.0" r="1.75" fill="#bebebe"/>
<circle cx="479.6" cy="413.4" r="1.75" fill="#bebebe"/>
<circle cx="488.0" cy="417.2" r="1.75" fill="#bebebe"/>
<circle cx="478.1" cy="404.2" r="1.75" fill="#bebebe"/>
<circle cx="468.3" cy="388.2" r="1.75" fill="#bebebe"/>
<circle cx="481.3" cy="415.1" r="1.75" fill="#bebebe"/>
<circle cx="487.3" cy="419.1" r="1.75" fill="#bebebe"/>
<circle cx="475.0" cy="398.6" r="1.75" fill="#bebebe"/>
<circle cx="479.2" cy="403.9" r="1.75" fill="#bebebe"/>
<circle cx="485.6" cy="417.1" r="1.75" fill="#bebebe"/>
<circle cx="489.1" cy="426.4" r="1.75" fill="#bebebe"/>
<circle cx="482.2" cy="418.9" r="1.75" fill="#bebebe"/>
<circle cx="483.6" cy="418.4" r="1.75" fill="#bebebe"/>
<circle cx="485.8" cy="417.1" r="1.75" fill="#bebebe"/>
<circle cx="489.2" cy="422.1" r="1.75" fill="#bebebe"/>
<circle cx="478.0" cy="399.1" r="1.75" fill="#bebebe"/>
<circle cx="483.2" cy="407.0" r="1.75" fill="#bebebe"/>
<circle cx="474.4" cy="391.0" r="1.75" fill="#bebebe"/>
<circle cx="489.0" cy="428.2" r="1.75" fill="#bebebe"/>
<circle cx="472.6" cy="391.5" r="1.75" fill="#bebebe"/>
<circle cx="477.6" cy="394.5" r="1.75" fill="#bebebe"/>
<circle cx="470.3" cy="384.4" r="1.75" fill="#bebebe"/>
<circle cx="469.6" cy="386.9" r="1.75" fill="#bebebe"/>
<circle cx="487.7" cy="427.7" r="1.75" fill="#bebebe"/>
<circle cx="473.2" cy="388.2" r="1.75" fill="#bebebe"/>
<circle cx="487.4" cy="426.4" r="1.75" fill="#bebebe"/>
<circle cx="481.4" cy="407.0" r="1.75" fill="#bebebe"/>
<circle cx="485.1" cy="412.8" r="1.75" fill="#bebebe"/>
<circle cx="487.8" cy="415.6" r="1.75" fill="#bebebe"/>
<circle cx="471.9" cy="389.2" r="1.75" fill="#bebebe"/>
<circle cx="479.1" cy="399.0" r="1.75" fill="#bebebe"/>
<circle cx="485.9" cy="422.8" r="1.75" fill="#bebebe"/>
<circle cx="473.2" cy="396.1" r="1.75" fill="#bebebe"/>
<circle cx="476.9" cy="395.1" r="1.75" fill="#bebebe"/>
<circle cx="481.0" cy="416.6" r="1.75" fill="#bebebe"/>
<circle cx="487.2" cy="420.9" r="1.75" fill="#bebebe"/>
<circle cx="478.8" cy="406.8" r="1.75" fill="#bebebe"/>
<circle cx="478.0" cy="407.4" r="1.75" fill="#bebebe"/>
<circle cx="479.2" cy="399.4" r="1.75" fill="#bebebe"/>
<circle cx="478.3" cy="398.0" r="1.75" fill="#bebebe"/>
<circle cx="486.6" cy="422.1" r="1.75" fill="#bebebe"/>
<circle cx="481.8" cy="412.6" r="1.75" fill="#bebebe"/>
<circle cx="474.1" cy="400.6" r="1.75" fill="#bebebe"/>
<circle cx="478.3" cy="407.6" r="1.75" fill="#bebebe"/>
<circle cx="486.2" cy="418.7" r="1.75" fill="#bebebe"/>
<circle cx="474.9" cy="390.2" r="1.75" fill="#bebebe"/>
<circle cx="474.3" cy="394.8" r="1.75" fill="#bebebe"/>
<circle cx="484.7" cy="420.4" r="1.75" fill="#bebebe"/>
<circle cx="487.4" cy="418.5" r="1.75" fill="#bebebe"/>
<circle cx="480.3" cy="416.3" r="1.75" fill="#bebebe"/>
<circle cx="480.4" cy="410.7" r="1.75" fill="#bebebe"/>
<circle cx="487.1" cy="420.3" r="1.75" fill="#bebebe"/>
<circle cx="487.7" cy="419.2" r="1.75" fill="#bebebe"/>
<circle cx="487.5" cy="426.5" r="1.75" fill="#bebebe"/>
<circle cx="476.2" cy="407.8" r="1.75" fill="#bebebe"/>
<circle cx="487.2" cy="419.8" r="1.75" fill="#bebebe"/>
<circle cx="502.4" cy="372.9" r="1.75" fill="#bebebe"/>
<circle cx="501.3" cy="386.6" r="1.75" fill="#bebebe"/>
<circle cx="492.5" cy="423.4" r="1.75" fill="#bebebe"/>
<circle cx="498.5" cy="391.2" r="1.75" fill="#bebebe"/>
<circle cx="498.8" cy="418.0" r="1.75" fill="#bebebe"/>
<circle cx="503.5" cy="398.7" r="1.75" fill="#bebebe"/>
<circle cx="502.5" cy="378.4" r="1.75" fill="#bebebe"/>
<circle cx="502.6" cy="400.0" r="1.75" fill="#bebebe"/>
<circle cx="497.2" cy="405.3" r="1.75" fill="#bebebe"/>
<circle cx="502.7" cy="386.2" r="1.75" fill="#bebebe"/>
<circle cx="499.6" cy="400.2" r="1.75" fill="#bebebe"/>
<circle cx="492.1" cy="425.6" r="1.75" fill="#bebebe"/>
<circle cx="495.8" cy="411.0" r="1.75" fill="#bebebe"/>
<circle cx="500.7" cy="402.1" r="1.75" fill="#bebebe"/>
<circle cx="493.7" cy="411.2" r="1.75" fill="#bebebe"/>
<circle cx="500.7" cy="379.8" r="1.75" fill="#bebebe"/>
<circle cx="504.0" cy="373.2" r="1.75" fill="#bebebe"/>
<circle cx="496.8" cy="409.5" r="1.75" fill="#bebebe"/>
<circle cx="487.6" cy="429.6" r="1.75" fill="#bebebe"/>
<circle cx="499.8" cy="388.5" r="1.75" fill="#bebebe"/>
<circle cx="498.5" cy="410.9" r="1.75" fill="#bebebe"/>
<circle cx="498.4" cy="407.7" r="1.75" fill="#bebebe"/>
<circle cx="496.9" cy="411.2" r="1.75" fill="#bebebe"/>
<circle cx="499.4" cy="394.8" r="1.75" fill="#bebebe"/>
<circle cx="496.6" cy="382.8" r="1.75" fill="#bebebe"/>
<circle cx="497.6" cy="402.0" r="1.75" fill="#bebebe"/>
<circle cx="505.7" cy="396.7" r="1.75" fill="#bebebe"/>
<circle cx="499.9" cy="395.3" r="1.75" fill="#bebebe"/>
<circle cx="500.2" cy="384.0" r="1.75" fill="#bebebe"/>
<circle cx="492.8" cy="428.0" r="1.75" fill="#bebebe"/>
<circle cx="502.6" cy="371.7" r="1.75" fill="#bebebe"/>
<circle cx="500.5" cy="395.4" r="1.75" fill="#bebebe"/>
<circle cx="502.9" cy="399.6" r="1.75" fill="#bebebe"/>
<circle cx="497.8" cy="404.1" r="1.75" fill="#bebebe"/>
<circle cx="489.6" cy="427.4" r="1.75" fill="#bebebe"/>
<circle cx="499.4" cy="398.1" r="1.75" fill="#bebebe"/>
<circle cx="499.1" cy="388.2" r="1.75" fill="#bebebe"/>
<circle cx="489.3" cy="424.5" r="1.75" fill="#bebebe"/>
<circle cx="493.5" cy="419.4" r="1.75" fill="#bebebe"/>
<circle cx="500.0" cy="401.3" r="1.75" fill="#bebebe"/>
<circle cx="506.6" cy="374.9" r="1.75" fill="#bebebe"/>
<circle cx="501.0" cy="400.5" r="1.75" fill="#bebebe"/>
<circle cx="503.9" cy="392.6" r="1.75" fill="#bebebe"/>
<circle cx="496.5" cy="423.8" r="1.75" fill="#bebebe"/>
<circle cx="491.8" cy="425.0" r="1.75" fill="#bebebe"/>
<circle cx="492.0" cy="424.7" r="1.75" fill="#bebebe"/>
<circle cx="500.9" cy="373.9" r="1.75" fill="#bebebe"/>
<circle cx="488.0" cy="415.9" r="1.75" fill="#bebebe"/>
<circle cx="501.5" cy="395.4" r="1.75" fill="#bebebe"/>
<circle cx="501.0" cy="389.7" r="1.75" fill="#bebebe"/>
<circle cx="502.4" cy="385.3" r="1.75" fill="#bebebe"/>
<circle cx="490.1" cy="426.9" r="1.75" fill="#bebebe"/>
<circle cx="506.8" cy="373.7" r="1.75" fill="#bebebe"/>
<circle cx="498.7" cy="387.9" r="1.75" fill="#bebebe"/>
<circle cx="500.8" cy="385.5" r="1.75" fill="#bebebe"/>
<circle cx="499.8" cy="387.5" r="1.75" fill="#bebebe"/>
<circle cx="500.7" cy="403.6" r="1.75" fill="#bebebe"/>
<circle cx="503.6" cy="382.8" r="1.75" fill="#bebebe"/>
<circle cx="497.5" cy="392.9" r="1.75" fill="#bebebe"/>
<circle cx="494.3" cy="418.8" r="1.75" fill="#bebebe"/>
<circle cx="489.2" cy="424.7" r="1.75" fill="#bebebe"/>
<circle cx="488.0" cy="412.0" r="1.75" fill="#bebebe"/>
<circle cx="492.2" cy="415.7" r="1.75" fill="#bebebe"/>
<circle cx="494.2" cy="413.9" r="1.75" fill="#bebebe"/>
<circle cx="494.6" cy="406.5" r="1.75" fill="#bebebe"/>
<circle cx="492.5" cy="407.2" r="1.75" fill="#bebebe"/>
<circle cx="497.5" cy="401.7" r="1.75" fill="#bebebe"/>
<circle cx="487.6" cy="422.3" r="1.75" fill="#bebebe"/>
<circle cx="493.9" cy="417.1" r="1.75" fill="#bebebe"/>
<circle cx="489.2" cy="424.1" r="1.75" fill="#bebebe"/>
<circle cx="487.5" cy="404.2" r="1.75" fill="#bebebe"/>
<circle cx="487.9" cy="425.6" r="1.75" fill="#bebebe"/>
<circle cx="495.0" cy="414.3" r="1.75" fill="#bebebe"/>
<circle cx="490.0" cy="425.2" r="1.75" fill="#bebebe"/>
<circle cx="492.3" cy="412.2" r="1.75" fill="#bebebe"/>
<circle cx="483.1" cy="401.9" r="1.75" fill="#bebebe"/>
<circle cx="488.1" cy="409.1" r="1.75" fill="#bebebe"/>
<circle cx="489.8" cy="427.2" r="1.75" fill="#bebebe"/>
<circle cx="491.9" cy="416.5" r="1.75" fill="#bebebe"/>
<circle cx="491.0" cy="421.8" r="1.75" fill="#bebebe"/>
<circle cx="490.7" cy="426.6" r="1.75" fill="#bebebe"/>
<circle cx="493.8" cy="404.4" r="1.75" fill="#bebebe"/>
<circle cx="482.9" cy="410.4" r="1.75" fill="#bebebe"/>
<circle cx="495.0" cy="411.2" r="1.75" fill="#bebebe"/>
<circle cx="491.1" cy="401.6" r="1.75" fill="#bebebe"/>
<circle cx="489.7" cy="422.9" r="1.75" fill="#bebebe"/>
<circle cx="493.8" cy="415.5" r="1.75" fill="#bebebe"/>
<circle cx="494.7" cy="412.0" r="1.75" fill="#bebebe"/>
<circle cx="491.1" cy="419.4" r="1.75" fill="#bebebe"/>
<circle cx="487.5" cy="421.4" r="1.75" fill="#bebebe"/>
<circle cx="399.2" cy="411.9" r="1.75" fill="#bebebe"/>
<circle cx="438.6" cy="395.6" r="1.75" fill="#bebebe"/>
<circle cx="442.1" cy="400.3" r="1.75" fill="#bebebe"/>
<circle cx="436.6" cy="403.4" r="1.75" fill="#bebebe"/>
<circle cx="444.2" cy="407.0" r="1.75" fill="#bebebe"/>
<circle cx="439.0" cy="411.9" r="1.75" fill="#bebebe"/>
<circle cx="444.2" cy="419.3" r="1.75" fill="#bebebe"/>
<circle cx="448.9" cy="413.2" r="1.75" fill="#bebebe"/>
<circle cx="452.3" cy="397.2" r="1.75" fill="#bebebe"/>
<circle cx="454.4" cy="402.3" r="1.75" fill="#bebebe"/>
<circle cx="455.0" cy="408.5" r="1.75" fill="#bebebe"/>
<circle cx="462.6" cy="401.3" r="1.75" fill="#bebebe"/>
<circle cx="462.0" cy="421.3" r="1.75" fill="#bebebe"/>
<circle cx="465.6" cy="399.3" r="1.75" fill="#bebebe"/>
<circle cx="466.2" cy="416.6" r="1.75" fill="#bebebe"/>
<circle cx="468.7" cy="410.5" r="1.75" fill="#bebebe"/>
<circle cx="585.3" cy="399.5" r="1.75" fill="#bebebe"/>
<circle cx="586.0" cy="413.5" r="1.75" fill="#bebebe"/>
<circle cx="560.0" cy="418.4" r="1.75" fill="#bebebe"/>
<circle cx="545.8" cy="407.4" r="1.75" fill="#bebebe"/>
<circle cx="532.5" cy="414.6" r="1.75" fill="#bebebe"/>
<circle cx="521.7" cy="416.0" r="1.75" fill="#bebebe"/>
<circle cx="524.4" cy="400.2" r="1.75" fill="#bebebe"/>
<circle cx="516.5" cy="407.8" r="1.75" fill="#bebebe"/>
<circle cx="508.6" cy="406.9" r="1.75" fill="#bebebe"/>
<circle cx="510.4" cy="424.3" r="1.75" fill="#bebebe"/>
<circle cx="474.0" cy="326.4" r="1.75" fill="#bebebe"/>
<circle cx="500.6" cy="331.8" r="1.75" fill="#bebebe"/>
<circle cx="497.3" cy="350.4" r="1.75" fill="#bebebe"/>
<circle cx="477.0" cy="366.0" r="1.75" fill="#bebebe"/>
<circle cx="478.0" cy="374.0" r="1.75" fill="#bebebe"/>
<circle cx="472.0" cy="384.0" r="1.75" fill="#bebebe"/>
<circle cx="500.0" cy="365.0" r="1.75" fill="#bebebe"/>
<circle cx="498.0" cy="372.0" r="1.75" fill="#bebebe"/>
<circle cx="502.0" cy="378.0" r="1.75" fill="#bebebe"/>
<circle cx="495.0" cy="383.0" r="1.75" fill="#bebebe"/>
<circle cx="480.0" cy="392.0" r="1.75" fill="#bebebe"/>
<circle cx="487.0" cy="393.0" r="1.75" fill="#bebebe"/>
<circle cx="504.0" cy="395.0" r="1.75" fill="#bebebe"/>
<circle cx="499.0" cy="392.0" r="1.75" fill="#bebebe"/>
<line x1="437.00" y1="286.00" x2="443.00" y2="293.00" stroke="#2222dd" stroke-width="0.85" />
<line x1="467.50" y1="300.20" x2="455.30" y2="301.70" stroke="#2222dd" stroke-width="0.85" />
<line x1="475.50" y1="310.50" x2="465.80" y2="307.00" stroke="#2222dd" stroke-width="0.85" />
<line x1="484.00" y1="331.00" x2="510.00" y2="337.20" stroke="#e82626" stroke-width="0.85" />
<line x1="499.50" y1="337.50" x2="510.40" y2="337.50" stroke="#e82626" stroke-width="0.85" />
<line x1="533.50" y1="339.30" x2="518.80" y2="343.00" stroke="#e82626" stroke-width="0.85" />
<circle cx="453.5" cy="267.6" r="1.75" fill="#2020ee"/>
<circle cx="464.0" cy="271.5" r="1.75" fill="#2020ee"/>
<circle cx="469.3" cy="276.5" r="1.75" fill="#2020ee"/>
<circle cx="443.0" cy="293.0" r="1.75" fill="#2020ee"/>
<circle cx="467.2" cy="286.5" r="1.75" fill="#2020ee"/>
<circle cx="451.4" cy="295.7" r="1.75" fill="#2020ee"/>
<circle cx="448.9" cy="300.7" r="1.75" fill="#2020ee"/>
<circle cx="455.6" cy="302.1" r="1.75" fill="#2020ee"/>
<circle cx="465.8" cy="306.8" r="1.75" fill="#2020ee"/>
<circle cx="450.3" cy="310.1" r="1.75" fill="#2020ee"/>
<circle cx="440.4" cy="314.8" r="1.75" fill="#2020ee"/>
<circle cx="446.3" cy="319.3" r="1.75" fill="#2020ee"/>
<circle cx="467.9" cy="316.9" r="1.75" fill="#2020ee"/>
<circle cx="462.5" cy="321.4" r="1.75" fill="#2020ee"/>
<circle cx="459.4" cy="324.2" r="1.75" fill="#2020ee"/>
<circle cx="440.4" cy="330.3" r="1.75" fill="#2020ee"/>
<circle cx="449.6" cy="333.1" r="1.75" fill="#2020ee"/>
<circle cx="442.3" cy="338.0" r="1.75" fill="#2020ee"/>
<circle cx="460.8" cy="336.9" r="1.75" fill="#2020ee"/>
<circle cx="469.3" cy="335.6" r="1.75" fill="#2020ee"/>
<circle cx="462.0" cy="340.8" r="1.75" fill="#2020ee"/>
<circle cx="471.4" cy="342.3" r="1.75" fill="#2020ee"/>
<circle cx="460.8" cy="345.8" r="1.75" fill="#2020ee"/>
<circle cx="446.8" cy="346.9" r="1.75" fill="#2020ee"/>
<circle cx="448.2" cy="350.4" r="1.75" fill="#2020ee"/>
<circle cx="456.6" cy="348.6" r="1.75" fill="#2020ee"/>
<circle cx="469.3" cy="349.6" r="1.75" fill="#2020ee"/>
<circle cx="452.4" cy="353.2" r="1.75" fill="#2020ee"/>
<circle cx="457.3" cy="353.5" r="1.75" fill="#2020ee"/>
<circle cx="465.1" cy="354.9" r="1.75" fill="#2020ee"/>
<circle cx="470.0" cy="353.5" r="1.75" fill="#2020ee"/>
<circle cx="472.8" cy="356.6" r="1.75" fill="#2020ee"/>
<circle cx="443.7" cy="356.3" r="1.75" fill="#2020ee"/>
<circle cx="460.8" cy="359.2" r="1.75" fill="#2020ee"/>
<circle cx="467.9" cy="359.9" r="1.75" fill="#2020ee"/>
<circle cx="454.9" cy="362.3" r="1.75" fill="#2020ee"/>
<circle cx="458.3" cy="364.5" r="1.75" fill="#2020ee"/>
<circle cx="471.4" cy="364.1" r="1.75" fill="#2020ee"/>
<circle cx="466.5" cy="365.9" r="1.75" fill="#2020ee"/>
<circle cx="423.5" cy="364.5" r="1.75" fill="#2020ee"/>
<circle cx="455.5" cy="369.0" r="1.75" fill="#2020ee"/>
<circle cx="466.5" cy="369.7" r="1.75" fill="#2020ee"/>
<circle cx="469.3" cy="371.8" r="1.75" fill="#2020ee"/>
<circle cx="447.5" cy="371.5" r="1.75" fill="#2020ee"/>
<circle cx="461.5" cy="372.5" r="1.75" fill="#2020ee"/>
<circle cx="460.1" cy="373.9" r="1.75" fill="#2020ee"/>
<circle cx="453.5" cy="375.8" r="1.75" fill="#2020ee"/>
<circle cx="467.9" cy="373.2" r="1.75" fill="#2020ee"/>
<circle cx="459.4" cy="379.6" r="1.75" fill="#2020ee"/>
<circle cx="458.7" cy="382.8" r="1.75" fill="#2020ee"/>
<circle cx="443.9" cy="381.4" r="1.75" fill="#2020ee"/>
<circle cx="443.2" cy="383.8" r="1.75" fill="#2020ee"/>
<circle cx="465.8" cy="384.2" r="1.75" fill="#2020ee"/>
<circle cx="471.0" cy="384.2" r="1.75" fill="#2020ee"/>
<circle cx="462.5" cy="388.3" r="1.75" fill="#2020ee"/>
<circle cx="469.3" cy="389.0" r="1.75" fill="#2020ee"/>
<circle cx="472.1" cy="389.7" r="1.75" fill="#2020ee"/>
<circle cx="431.3" cy="392.5" r="1.75" fill="#2020ee"/>
<circle cx="420.7" cy="393.2" r="1.75" fill="#2020ee"/>
<circle cx="471.4" cy="394.1" r="1.75" fill="#2020ee"/>
<circle cx="470.0" cy="393.7" r="1.75" fill="#2020ee"/>
<circle cx="530.3" cy="299.2" r="1.75" fill="#ee2020"/>
<circle cx="515.4" cy="310.4" r="1.75" fill="#ee2020"/>
<circle cx="522.6" cy="320.3" r="1.75" fill="#ee2020"/>
<circle cx="507.2" cy="329.9" r="1.75" fill="#ee2020"/>
<circle cx="510.0" cy="331.8" r="1.75" fill="#ee2020"/>
<circle cx="510.0" cy="337.2" r="1.75" fill="#ee2020"/>
<circle cx="514.4" cy="339.1" r="1.75" fill="#ee2020"/>
<circle cx="517.5" cy="343.1" r="1.75" fill="#ee2020"/>
<circle cx="520.3" cy="343.1" r="1.75" fill="#ee2020"/>
<circle cx="510.2" cy="347.9" r="1.75" fill="#ee2020"/>
<circle cx="514.7" cy="351.0" r="1.75" fill="#ee2020"/>
<circle cx="518.1" cy="350.6" r="1.75" fill="#ee2020"/>
<circle cx="515.3" cy="352.4" r="1.75" fill="#ee2020"/>
<circle cx="538.4" cy="355.1" r="1.75" fill="#ee2020"/>
<circle cx="518.4" cy="357.7" r="1.75" fill="#ee2020"/>
<circle cx="508.0" cy="361.1" r="1.75" fill="#ee2020"/>
<circle cx="510.8" cy="362.8" r="1.75" fill="#ee2020"/>
<circle cx="513.6" cy="363.4" r="1.75" fill="#ee2020"/>
<circle cx="516.6" cy="361.7" r="1.75" fill="#ee2020"/>
<circle cx="522.6" cy="363.7" r="1.75" fill="#ee2020"/>
<circle cx="516.4" cy="366.2" r="1.75" fill="#ee2020"/>
<circle cx="513.6" cy="367.3" r="1.75" fill="#ee2020"/>
<circle cx="506.8" cy="368.6" r="1.75" fill="#ee2020"/>
<circle cx="508.3" cy="369.8" r="1.75" fill="#ee2020"/>
<circle cx="518.6" cy="371.8" r="1.75" fill="#ee2020"/>
<circle cx="515.3" cy="372.7" r="1.75" fill="#ee2020"/>
<circle cx="517.5" cy="373.8" r="1.75" fill="#ee2020"/>
<circle cx="513.6" cy="373.8" r="1.75" fill="#ee2020"/>
<circle cx="519.2" cy="375.0" r="1.75" fill="#ee2020"/>
<circle cx="538.4" cy="375.2" r="1.75" fill="#ee2020"/>
<circle cx="509.1" cy="373.8" r="1.75" fill="#ee2020"/>
<circle cx="508.0" cy="376.3" r="1.75" fill="#ee2020"/>
<circle cx="511.7" cy="378.3" r="1.75" fill="#ee2020"/>
<circle cx="507.2" cy="379.1" r="1.75" fill="#ee2020"/>
<circle cx="510.8" cy="380.8" r="1.75" fill="#ee2020"/>
<circle cx="514.7" cy="381.4" r="1.75" fill="#ee2020"/>
<circle cx="506.3" cy="381.9" r="1.75" fill="#ee2020"/>
<circle cx="513.0" cy="383.6" r="1.75" fill="#ee2020"/>
<circle cx="509.6" cy="383.6" r="1.75" fill="#ee2020"/>
<circle cx="522.0" cy="383.6" r="1.75" fill="#ee2020"/>
<circle cx="506.3" cy="385.3" r="1.75" fill="#ee2020"/>
<circle cx="517.5" cy="385.9" r="1.75" fill="#ee2020"/>
<circle cx="523.2" cy="387.3" r="1.75" fill="#ee2020"/>
<circle cx="508.5" cy="387.6" r="1.75" fill="#ee2020"/>
<circle cx="506.8" cy="388.7" r="1.75" fill="#ee2020"/>
<circle cx="511.9" cy="389.3" r="1.75" fill="#ee2020"/>
<circle cx="512.5" cy="391.2" r="1.75" fill="#ee2020"/>
<circle cx="508.0" cy="393.8" r="1.75" fill="#ee2020"/>
<circle cx="517.5" cy="394.7" r="1.75" fill="#ee2020"/>
<circle cx="555.5" cy="368.6" r="1.75" fill="#ee2020"/>
<circle cx="573.1" cy="378.5" r="1.75" fill="#ee2020"/>
<circle cx="568.6" cy="383.2" r="1.75" fill="#ee2020"/>
<text x="421.40" y="267.70" font-size="7.6" fill="#2222dd" text-anchor="start" font-family='"Liberation Sans", sans-serif' stroke="#2222dd" stroke-width="0.25">CLSTN1</text>
<text x="456.60" y="269.00" font-size="7.6" fill="#2222dd" text-anchor="start" font-family='"Liberation Sans", sans-serif' stroke="#2222dd" stroke-width="0.25">EFEMP1</text>
<text x="471.90" y="281.80" font-size="7.6" fill="#2222dd" text-anchor="start" font-family='"Liberation Sans", sans-serif' stroke="#2222dd" stroke-width="0.25">SERPINF1</text>
<text x="416.70" y="285.20" font-size="7.6" fill="#2222dd" text-anchor="start" font-family='"Liberation Sans", sans-serif' stroke="#2222dd" stroke-width="0.25">ASAH1</text>
<text x="453.50" y="292.60" font-size="7.6" fill="#2222dd" text-anchor="start" font-family='"Liberation Sans", sans-serif' stroke="#2222dd" stroke-width="0.25">PSAP</text>
<text x="446.90" y="295.70" font-size="7.6" fill="#2222dd" text-anchor="start" font-family='"Liberation Sans", sans-serif' stroke="#2222dd" stroke-width="0.25">CPE</text>
<text x="430.60" y="308.10" font-size="7.6" fill="#2222dd" text-anchor="start" font-family='"Liberation Sans", sans-serif' stroke="#2222dd" stroke-width="0.25">APP</text>
<text x="468.00" y="303.10" font-size="7.6" fill="#2222dd" text-anchor="start" font-family='"Liberation Sans", sans-serif' stroke="#2222dd" stroke-width="0.25">SPOCK1</text>
<text x="475.80" y="314.20" font-size="7.6" fill="#2222dd" text-anchor="start" font-family='"Liberation Sans", sans-serif' stroke="#2222dd" stroke-width="0.25">TTR</text>
<text x="445.60" y="318.60" font-size="7.6" fill="#2222dd" text-anchor="start" font-family='"Liberation Sans", sans-serif' stroke="#2222dd" stroke-width="0.25">IMPG1</text>
<text x="533.00" y="296.70" font-size="7.6" fill="#e82626" text-anchor="start" font-family='"Liberation Sans", sans-serif' stroke="#e82626" stroke-width="0.25">C5</text>
<text x="504.80" y="307.50" font-size="7.6" fill="#e82626" text-anchor="start" font-family='"Liberation Sans", sans-serif' stroke="#e82626" stroke-width="0.25">CFH</text>
<text x="525.80" y="318.30" font-size="7.6" fill="#e82626" text-anchor="start" font-family='"Liberation Sans", sans-serif' stroke="#e82626" stroke-width="0.25">IGKC</text>
<text x="490.60" y="325.50" font-size="7.6" fill="#e82626" text-anchor="start" font-family='"Liberation Sans", sans-serif' stroke="#e82626" stroke-width="0.25">IGLC2</text>
<text x="474.50" y="333.10" font-size="7.6" fill="#e82626" text-anchor="start" font-family='"Liberation Sans", sans-serif' stroke="#e82626" stroke-width="0.25">C3</text>
<text x="513.40" y="336.40" font-size="7.6" fill="#e82626" text-anchor="start" font-family='"Liberation Sans", sans-serif' stroke="#e82626" stroke-width="0.25">PLG</text>
<text x="481.10" y="340.20" font-size="7.6" fill="#e82626" text-anchor="start" font-family='"Liberation Sans", sans-serif' stroke="#e82626" stroke-width="0.25">ITIH4</text>
<text x="533.70" y="341.70" font-size="7.6" fill="#e82626" text-anchor="start" font-family='"Liberation Sans", sans-serif' stroke="#e82626" stroke-width="0.25">IGKV3-20</text>
<text x="494.70" y="348.70" font-size="7.6" fill="#e82626" text-anchor="start" font-family='"Liberation Sans", sans-serif' stroke="#e82626" stroke-width="0.25">A1BG</text>
<text x="521.00" y="352.60" font-size="7.6" fill="#e82626" text-anchor="start" font-family='"Liberation Sans", sans-serif' stroke="#e82626" stroke-width="0.25">PGLYRP2</text>
<rect x="365.5" y="259.3" width="247.89999999999998" height="179.8" fill="none" stroke="#6e6e6e" stroke-width="1"/>
<rect x="365.5" y="240.5" width="247.89999999999998" height="18.80000000000001" fill="#d9d9d9" stroke="#5a5a5a" stroke-width="1"/>
<line x1="365.50" y1="259.30" x2="613.40" y2="259.30" stroke="#555" stroke-width="1.3" />
<text x="489.45" y="253.40" font-size="9.9" fill="#1a1a1a" text-anchor="middle" font-family='"Liberation Sans", sans-serif' >Volcano Plot</text>
<text x="335.50" y="257.00" font-size="17" fill="#111" text-anchor="start" font-family='"Liberation Sans", sans-serif' >D</text>
<line x1="361.80" y1="431.20" x2="365.50" y2="431.20" stroke="#333" stroke-width="1.2" />
<text x="359.50" y="434.80" font-size="10.1" fill="#4d4d4d" text-anchor="end" font-family='"Liberation Sans", sans-serif' >0</text>
<line x1="361.80" y1="375.80" x2="365.50" y2="375.80" stroke="#333" stroke-width="1.2" />
<text x="359.50" y="379.40" font-size="10.1" fill="#4d4d4d" text-anchor="end" font-family='"Liberation Sans", sans-serif' >2</text>
<line x1="361.80" y1="320.40" x2="365.50" y2="320.40" stroke="#333" stroke-width="1.2" />
<text x="359.50" y="324.00" font-size="10.1" fill="#4d4d4d" text-anchor="end" font-family='"Liberation Sans", sans-serif' >4</text>
<line x1="361.80" y1="265.00" x2="365.50" y2="265.00" stroke="#333" stroke-width="1.2" />
<text x="359.50" y="268.60" font-size="10.1" fill="#4d4d4d" text-anchor="end" font-family='"Liberation Sans", sans-serif' >6</text>
<line x1="423.30" y1="439.10" x2="423.30" y2="442.70" stroke="#333" stroke-width="1.2" />
<text x="423.30" y="453.10" font-size="10.1" fill="#4d4d4d" text-anchor="middle" font-family='"Liberation Sans", sans-serif' >-4</text>
<line x1="489.50" y1="439.10" x2="489.50" y2="442.70" stroke="#333" stroke-width="1.2" />
<text x="489.50" y="453.10" font-size="10.1" fill="#4d4d4d" text-anchor="middle" font-family='"Liberation Sans", sans-serif' >0</text>
<line x1="555.70" y1="439.10" x2="555.70" y2="442.70" stroke="#333" stroke-width="1.2" />
<text x="555.70" y="453.10" font-size="10.1" fill="#4d4d4d" text-anchor="middle" font-family='"Liberation Sans", sans-serif' >4</text>
<text x="490.95" y="465.10" font-size="12.4" fill="#1a1a1a" text-anchor="middle" font-family='"Liberation Sans", sans-serif'>log<tspan font-size="8" dy="0.5">2</tspan><tspan dy="-0.5">(VH/Control)</tspan></text>
<text x="0" y="0" font-size="8.4" fill="#000" text-anchor="middle" font-family='"Liberation Sans", sans-serif' transform="translate(348.8 349.20) rotate(-90)">-log10(p-value)</text>
<text x="632.80" y="332.20" font-size="6.9" fill="#111" text-anchor="start" font-family='"Liberation Sans", sans-serif' >Regulated Type</text>
<circle cx="639" cy="342.7" r="1.7" fill="#ee2020"/>
<text x="648.30" y="344.70" font-size="5.75" fill="#222" text-anchor="start" font-family='"Liberation Sans", sans-serif' >up</text>
<circle cx="639" cy="354.8" r="1.7" fill="#2020ee"/>
<text x="648.30" y="356.80" font-size="5.75" fill="#222" text-anchor="start" font-family='"Liberation Sans", sans-serif' >down</text>
<circle cx="639" cy="367.0" r="1.7" fill="#bebebe"/>
<text x="648.30" y="369.00" font-size="5.75" fill="#222" text-anchor="start" font-family='"Liberation Sans", sans-serif' >unchange</text>
<rect x="365.50" y="498.00" width="247.90" height="179.80" fill="#fff" />
<line x1="365.50" y1="639.65" x2="613.40" y2="639.65" stroke="#f2f2f2" stroke-width="0.7" />
<line x1="365.50" y1="578.75" x2="613.40" y2="578.75" stroke="#f2f2f2" stroke-width="0.7" />
<line x1="365.50" y1="517.85" x2="613.40" y2="517.85" stroke="#f2f2f2" stroke-width="0.7" />
<line x1="372.95" y1="498.00" x2="372.95" y2="677.80" stroke="#f2f2f2" stroke-width="0.7" />
<line x1="419.65" y1="498.00" x2="419.65" y2="677.80" stroke="#f2f2f2" stroke-width="0.7" />
<line x1="466.35" y1="498.00" x2="466.35" y2="677.80" stroke="#f2f2f2" stroke-width="0.7" />
<line x1="513.05" y1="498.00" x2="513.05" y2="677.80" stroke="#f2f2f2" stroke-width="0.7" />
<line x1="559.75" y1="498.00" x2="559.75" y2="677.80" stroke="#f2f2f2" stroke-width="0.7" />
<line x1="606.45" y1="498.00" x2="606.45" y2="677.80" stroke="#f2f2f2" stroke-width="0.7" />
<line x1="365.50" y1="670.10" x2="613.40" y2="670.10" stroke="#ebebeb" stroke-width="1.0" />
<line x1="365.50" y1="609.20" x2="613.40" y2="609.20" stroke="#ebebeb" stroke-width="1.0" />
<line x1="365.50" y1="548.30" x2="613.40" y2="548.30" stroke="#ebebeb" stroke-width="1.0" />
<line x1="396.30" y1="498.00" x2="396.30" y2="677.80" stroke="#ebebeb" stroke-width="1.0" />
<line x1="443.00" y1="498.00" x2="443.00" y2="677.80" stroke="#ebebeb" stroke-width="1.0" />
<line x1="489.70" y1="498.00" x2="489.70" y2="677.80" stroke="#ebebeb" stroke-width="1.0" />
<line x1="536.40" y1="498.00" x2="536.40" y2="677.80" stroke="#ebebeb" stroke-width="1.0" />
<line x1="583.10" y1="498.00" x2="583.10" y2="677.80" stroke="#ebebeb" stroke-width="1.0" />
<circle cx="484.8" cy="644.4" r="1.75" fill="#bebebe"/>
<circle cx="482.5" cy="634.2" r="1.75" fill="#bebebe"/>
<circle cx="480.1" cy="646.9" r="1.75" fill="#bebebe"/>
<circle cx="486.6" cy="663.9" r="1.75" fill="#bebebe"/>
<circle cx="482.9" cy="661.6" r="1.75" fill="#bebebe"/>
<circle cx="490.1" cy="652.7" r="1.75" fill="#bebebe"/>
<circle cx="481.8" cy="636.2" r="1.75" fill="#bebebe"/>
<circle cx="483.3" cy="661.5" r="1.75" fill="#bebebe"/>
<circle cx="477.8" cy="635.6" r="1.75" fill="#bebebe"/>
<circle cx="485.5" cy="648.6" r="1.75" fill="#bebebe"/>
<circle cx="486.5" cy="662.5" r="1.75" fill="#bebebe"/>
<circle cx="482.9" cy="644.2" r="1.75" fill="#bebebe"/>
<circle cx="484.8" cy="648.1" r="1.75" fill="#bebebe"/>
<circle cx="490.0" cy="662.3" r="1.75" fill="#bebebe"/>
<circle cx="481.4" cy="635.4" r="1.75" fill="#bebebe"/>
<circle cx="476.3" cy="642.2" r="1.75" fill="#bebebe"/>
<circle cx="481.4" cy="648.2" r="1.75" fill="#bebebe"/>
<circle cx="483.9" cy="654.2" r="1.75" fill="#bebebe"/>
<circle cx="485.6" cy="668.1" r="1.75" fill="#bebebe"/>
<circle cx="488.3" cy="668.0" r="1.75" fill="#bebebe"/>
<circle cx="481.8" cy="645.0" r="1.75" fill="#bebebe"/>
<circle cx="481.3" cy="628.4" r="1.75" fill="#bebebe"/>
<circle cx="483.0" cy="653.0" r="1.75" fill="#bebebe"/>
<circle cx="480.4" cy="651.6" r="1.75" fill="#bebebe"/>
<circle cx="486.6" cy="661.7" r="1.75" fill="#bebebe"/>
<circle cx="478.3" cy="653.9" r="1.75" fill="#bebebe"/>
<circle cx="488.4" cy="670.3" r="1.75" fill="#bebebe"/>
<circle cx="488.6" cy="665.8" r="1.75" fill="#bebebe"/>
<circle cx="487.6" cy="662.3" r="1.75" fill="#bebebe"/>
<circle cx="490.3" cy="665.4" r="1.75" fill="#bebebe"/>
<circle cx="479.9" cy="631.7" r="1.75" fill="#bebebe"/>
<circle cx="483.3" cy="649.0" r="1.75" fill="#bebebe"/>
<circle cx="480.2" cy="634.5" r="1.75" fill="#bebebe"/>
<circle cx="480.1" cy="629.8" r="1.75" fill="#bebebe"/>
<circle cx="485.5" cy="660.4" r="1.75" fill="#bebebe"/>
<circle cx="480.3" cy="647.8" r="1.75" fill="#bebebe"/>
<circle cx="476.7" cy="637.2" r="1.75" fill="#bebebe"/>
<circle cx="484.5" cy="631.7" r="1.75" fill="#bebebe"/>
<circle cx="480.0" cy="635.4" r="1.75" fill="#bebebe"/>
<circle cx="478.7" cy="650.9" r="1.75" fill="#bebebe"/>
<circle cx="481.1" cy="644.3" r="1.75" fill="#bebebe"/>
<circle cx="483.4" cy="644.9" r="1.75" fill="#bebebe"/>
<circle cx="488.0" cy="664.0" r="1.75" fill="#bebebe"/>
<circle cx="485.9" cy="648.5" r="1.75" fill="#bebebe"/>
<circle cx="486.3" cy="661.5" r="1.75" fill="#bebebe"/>
<circle cx="481.3" cy="631.7" r="1.75" fill="#bebebe"/>
<circle cx="490.7" cy="660.2" r="1.75" fill="#bebebe"/>
<circle cx="484.5" cy="647.0" r="1.75" fill="#bebebe"/>
<circle cx="490.4" cy="665.7" r="1.75" fill="#bebebe"/>
<circle cx="488.9" cy="667.1" r="1.75" fill="#bebebe"/>
<circle cx="482.3" cy="644.2" r="1.75" fill="#bebebe"/>
<circle cx="484.4" cy="649.0" r="1.75" fill="#bebebe"/>
<circle cx="485.9" cy="660.6" r="1.75" fill="#bebebe"/>
<circle cx="483.0" cy="633.3" r="1.75" fill="#bebebe"/>
<circle cx="478.6" cy="635.3" r="1.75" fill="#bebebe"/>
<circle cx="478.2" cy="646.7" r="1.75" fill="#bebebe"/>
<circle cx="484.8" cy="664.5" r="1.75" fill="#bebebe"/>
<circle cx="488.6" cy="663.5" r="1.75" fill="#bebebe"/>
<circle cx="481.7" cy="646.6" r="1.75" fill="#bebebe"/>
<circle cx="483.9" cy="653.0" r="1.75" fill="#bebebe"/>
<circle cx="484.8" cy="662.6" r="1.75" fill="#bebebe"/>
<circle cx="482.7" cy="647.7" r="1.75" fill="#bebebe"/>
<circle cx="484.8" cy="652.0" r="1.75" fill="#bebebe"/>
<circle cx="486.2" cy="664.5" r="1.75" fill="#bebebe"/>
<circle cx="482.8" cy="651.0" r="1.75" fill="#bebebe"/>
<circle cx="486.5" cy="658.4" r="1.75" fill="#bebebe"/>
<circle cx="478.0" cy="634.5" r="1.75" fill="#bebebe"/>
<circle cx="481.6" cy="646.3" r="1.75" fill="#bebebe"/>
<circle cx="479.9" cy="637.5" r="1.75" fill="#bebebe"/>
<circle cx="486.4" cy="650.9" r="1.75" fill="#bebebe"/>
<circle cx="493.5" cy="648.8" r="1.75" fill="#bebebe"/>
<circle cx="490.8" cy="652.3" r="1.75" fill="#bebebe"/>
<circle cx="495.6" cy="659.1" r="1.75" fill="#bebebe"/>
<circle cx="491.7" cy="662.6" r="1.75" fill="#bebebe"/>
<circle cx="496.2" cy="630.0" r="1.75" fill="#bebebe"/>
<circle cx="488.8" cy="666.1" r="1.75" fill="#bebebe"/>
<circle cx="494.8" cy="663.8" r="1.75" fill="#bebebe"/>
<circle cx="498.8" cy="632.0" r="1.75" fill="#bebebe"/>
<circle cx="488.5" cy="670.5" r="1.75" fill="#bebebe"/>
<circle cx="484.8" cy="667.7" r="1.75" fill="#bebebe"/>
<circle cx="489.3" cy="662.5" r="1.75" fill="#bebebe"/>
<circle cx="497.5" cy="646.5" r="1.75" fill="#bebebe"/>
<circle cx="490.8" cy="667.6" r="1.75" fill="#bebebe"/>
<circle cx="488.5" cy="663.1" r="1.75" fill="#bebebe"/>
<circle cx="497.1" cy="638.8" r="1.75" fill="#bebebe"/>
<circle cx="496.1" cy="637.1" r="1.75" fill="#bebebe"/>
<circle cx="497.1" cy="636.9" r="1.75" fill="#bebebe"/>
<circle cx="493.0" cy="635.5" r="1.75" fill="#bebebe"/>
<circle cx="500.2" cy="644.9" r="1.75" fill="#bebebe"/>
<circle cx="489.6" cy="637.8" r="1.75" fill="#bebebe"/>
<circle cx="497.7" cy="631.2" r="1.75" fill="#bebebe"/>
<circle cx="497.8" cy="642.8" r="1.75" fill="#bebebe"/>
<circle cx="487.5" cy="668.4" r="1.75" fill="#bebebe"/>
<circle cx="496.7" cy="641.7" r="1.75" fill="#bebebe"/>
<circle cx="492.9" cy="652.6" r="1.75" fill="#bebebe"/>
<circle cx="495.7" cy="653.3" r="1.75" fill="#bebebe"/>
<circle cx="491.1" cy="652.4" r="1.75" fill="#bebebe"/>
<circle cx="492.8" cy="665.6" r="1.75" fill="#bebebe"/>
<circle cx="487.6" cy="666.4" r="1.75" fill="#bebebe"/>
<circle cx="497.1" cy="639.3" r="1.75" fill="#bebebe"/>
<circle cx="490.4" cy="669.5" r="1.75" fill="#bebebe"/>
<circle cx="501.9" cy="642.6" r="1.75" fill="#bebebe"/>
<circle cx="488.2" cy="656.7" r="1.75" fill="#bebebe"/>
<circle cx="490.5" cy="663.3" r="1.75" fill="#bebebe"/>
<circle cx="496.1" cy="646.7" r="1.75" fill="#bebebe"/>
<circle cx="494.3" cy="628.7" r="1.75" fill="#bebebe"/>
<circle cx="489.3" cy="666.2" r="1.75" fill="#bebebe"/>
<circle cx="495.4" cy="638.3" r="1.75" fill="#bebebe"/>
<circle cx="494.1" cy="640.8" r="1.75" fill="#bebebe"/>
<circle cx="492.0" cy="648.6" r="1.75" fill="#bebebe"/>
<circle cx="495.7" cy="629.5" r="1.75" fill="#bebebe"/>
<circle cx="493.6" cy="640.7" r="1.75" fill="#bebebe"/>
<circle cx="494.3" cy="655.2" r="1.75" fill="#bebebe"/>
<circle cx="493.2" cy="637.2" r="1.75" fill="#bebebe"/>
<circle cx="494.2" cy="653.8" r="1.75" fill="#bebebe"/>
<circle cx="487.3" cy="667.6" r="1.75" fill="#bebebe"/>
<circle cx="493.2" cy="646.0" r="1.75" fill="#bebebe"/>
<circle cx="494.1" cy="633.0" r="1.75" fill="#bebebe"/>
<circle cx="488.7" cy="663.2" r="1.75" fill="#bebebe"/>
<circle cx="495.8" cy="650.6" r="1.75" fill="#bebebe"/>
<circle cx="491.8" cy="652.9" r="1.75" fill="#bebebe"/>
<circle cx="493.5" cy="656.1" r="1.75" fill="#bebebe"/>
<circle cx="488.4" cy="665.2" r="1.75" fill="#bebebe"/>
<circle cx="490.0" cy="664.5" r="1.75" fill="#bebebe"/>
<circle cx="497.1" cy="637.0" r="1.75" fill="#bebebe"/>
<circle cx="499.0" cy="649.2" r="1.75" fill="#bebebe"/>
<circle cx="497.1" cy="639.1" r="1.75" fill="#bebebe"/>
<circle cx="495.6" cy="657.8" r="1.75" fill="#bebebe"/>
<circle cx="493.1" cy="645.0" r="1.75" fill="#bebebe"/>
<circle cx="488.8" cy="654.7" r="1.75" fill="#bebebe"/>
<circle cx="490.3" cy="658.3" r="1.75" fill="#bebebe"/>
<circle cx="493.2" cy="652.8" r="1.75" fill="#bebebe"/>
<circle cx="499.5" cy="646.5" r="1.75" fill="#bebebe"/>
<circle cx="492.9" cy="633.6" r="1.75" fill="#bebebe"/>
<circle cx="489.9" cy="666.0" r="1.75" fill="#bebebe"/>
<circle cx="494.7" cy="647.0" r="1.75" fill="#bebebe"/>
<circle cx="488.8" cy="663.4" r="1.75" fill="#bebebe"/>
<circle cx="490.0" cy="650.8" r="1.75" fill="#bebebe"/>
<circle cx="497.7" cy="633.0" r="1.75" fill="#bebebe"/>
<circle cx="494.4" cy="645.1" r="1.75" fill="#bebebe"/>
<circle cx="487.2" cy="653.7" r="1.75" fill="#bebebe"/>
<circle cx="489.5" cy="665.3" r="1.75" fill="#bebebe"/>
<circle cx="490.7" cy="660.6" r="1.75" fill="#bebebe"/>
<circle cx="488.9" cy="662.7" r="1.75" fill="#bebebe"/>
<circle cx="489.7" cy="660.8" r="1.75" fill="#bebebe"/>
<circle cx="488.9" cy="663.7" r="1.75" fill="#bebebe"/>
<circle cx="489.8" cy="665.2" r="1.75" fill="#bebebe"/>
<circle cx="488.2" cy="663.8" r="1.75" fill="#bebebe"/>
<circle cx="493.3" cy="653.6" r="1.75" fill="#bebebe"/>
<circle cx="490.0" cy="659.2" r="1.75" fill="#bebebe"/>
<circle cx="486.7" cy="659.0" r="1.75" fill="#bebebe"/>
<circle cx="489.4" cy="663.2" r="1.75" fill="#bebebe"/>
<circle cx="489.1" cy="665.4" r="1.75" fill="#bebebe"/>
<circle cx="489.7" cy="663.3" r="1.75" fill="#bebebe"/>
<circle cx="488.5" cy="664.9" r="1.75" fill="#bebebe"/>
<circle cx="461.9" cy="631.9" r="1.75" fill="#bebebe"/>
<circle cx="464.5" cy="636.3" r="1.75" fill="#bebebe"/>
<circle cx="468.9" cy="638.9" r="1.75" fill="#bebebe"/>
<circle cx="456.6" cy="647.7" r="1.75" fill="#bebebe"/>
<circle cx="453.7" cy="652.9" r="1.75" fill="#bebebe"/>
<circle cx="459.3" cy="656.4" r="1.75" fill="#bebebe"/>
<circle cx="471.2" cy="658.7" r="1.75" fill="#bebebe"/>
<circle cx="473.3" cy="651.2" r="1.75" fill="#bebebe"/>
<circle cx="479.4" cy="650.3" r="1.75" fill="#bebebe"/>
<circle cx="476.8" cy="657.3" r="1.75" fill="#bebebe"/>
<circle cx="500.4" cy="656.4" r="1.75" fill="#bebebe"/>
<circle cx="506.6" cy="634.5" r="1.75" fill="#bebebe"/>
<circle cx="516.2" cy="637.5" r="1.75" fill="#bebebe"/>
<circle cx="509.2" cy="642.4" r="1.75" fill="#bebebe"/>
<circle cx="512.7" cy="641.2" r="1.75" fill="#bebebe"/>
<circle cx="511.0" cy="645.0" r="1.75" fill="#bebebe"/>
<circle cx="507.4" cy="650.0" r="1.75" fill="#bebebe"/>
<circle cx="512.7" cy="648.5" r="1.75" fill="#bebebe"/>
<circle cx="521.5" cy="645.9" r="1.75" fill="#bebebe"/>
<circle cx="523.2" cy="652.0" r="1.75" fill="#bebebe"/>
<circle cx="531.5" cy="646.4" r="1.75" fill="#bebebe"/>
<circle cx="503.1" cy="645.9" r="1.75" fill="#bebebe"/>
<circle cx="437.7" cy="652.3" r="1.75" fill="#bebebe"/>
<circle cx="494.7" cy="548.8" r="1.75" fill="#bebebe"/>
<circle cx="493.9" cy="596.1" r="1.75" fill="#bebebe"/>
<circle cx="496.9" cy="611.4" r="1.75" fill="#bebebe"/>
<circle cx="495.4" cy="617.3" r="1.75" fill="#bebebe"/>
<circle cx="495.9" cy="623.2" r="1.75" fill="#bebebe"/>
<circle cx="482.5" cy="605.0" r="1.75" fill="#bebebe"/>
<circle cx="481.5" cy="612.9" r="1.75" fill="#bebebe"/>
<circle cx="482.0" cy="619.8" r="1.75" fill="#bebebe"/>
<circle cx="462.0" cy="631.6" r="1.75" fill="#bebebe"/>
<circle cx="476.0" cy="628.0" r="1.75" fill="#bebebe"/>
<circle cx="479.0" cy="631.0" r="1.75" fill="#bebebe"/>
<circle cx="483.0" cy="633.0" r="1.75" fill="#bebebe"/>
<circle cx="485.0" cy="627.0" r="1.75" fill="#bebebe"/>
<circle cx="478.0" cy="636.0" r="1.75" fill="#bebebe"/>
<circle cx="494.0" cy="628.0" r="1.75" fill="#bebebe"/>
<circle cx="498.0" cy="630.0" r="1.75" fill="#bebebe"/>
<circle cx="501.0" cy="633.0" r="1.75" fill="#bebebe"/>
<circle cx="497.0" cy="636.0" r="1.75" fill="#bebebe"/>
<circle cx="503.0" cy="638.0" r="1.75" fill="#bebebe"/>
<line x1="510.00" y1="557.50" x2="506.50" y2="562.90" stroke="#e82626" stroke-width="0.85" />
<line x1="535.00" y1="565.00" x2="507.90" y2="576.40" stroke="#e82626" stroke-width="0.85" />
<line x1="491.30" y1="568.30" x2="478.40" y2="570.40" stroke="#2222dd" stroke-width="0.85" />
<line x1="511.30" y1="584.00" x2="504.30" y2="581.80" stroke="#e82626" stroke-width="0.85" />
<line x1="511.70" y1="573.50" x2="507.70" y2="574.90" stroke="#e82626" stroke-width="0.85" />
<line x1="516.50" y1="604.00" x2="507.20" y2="588.00" stroke="#e82626" stroke-width="0.85" />
<circle cx="473.2" cy="506.3" r="1.75" fill="#2020ee"/>
<circle cx="464.8" cy="519.9" r="1.75" fill="#2020ee"/>
<circle cx="445.6" cy="530.4" r="1.75" fill="#2020ee"/>
<circle cx="461.4" cy="527.8" r="1.75" fill="#2020ee"/>
<circle cx="460.6" cy="550.1" r="1.75" fill="#2020ee"/>
<circle cx="468.0" cy="551.5" r="1.75" fill="#2020ee"/>
<circle cx="468.5" cy="561.4" r="1.75" fill="#2020ee"/>
<circle cx="475.3" cy="563.3" r="1.75" fill="#2020ee"/>
<circle cx="458.7" cy="564.1" r="1.75" fill="#2020ee"/>
<circle cx="478.4" cy="570.4" r="1.75" fill="#2020ee"/>
<circle cx="457.4" cy="580.9" r="1.75" fill="#2020ee"/>
<circle cx="478.6" cy="570.5" r="1.75" fill="#2020ee"/>
<circle cx="479.1" cy="574.4" r="1.75" fill="#2020ee"/>
<circle cx="456.9" cy="580.8" r="1.75" fill="#2020ee"/>
<circle cx="470.2" cy="578.9" r="1.75" fill="#2020ee"/>
<circle cx="472.5" cy="581.6" r="1.75" fill="#2020ee"/>
<circle cx="480.0" cy="583.0" r="1.75" fill="#2020ee"/>
<circle cx="478.6" cy="586.7" r="1.75" fill="#2020ee"/>
<circle cx="472.5" cy="587.5" r="1.75" fill="#2020ee"/>
<circle cx="467.0" cy="595.4" r="1.75" fill="#2020ee"/>
<circle cx="476.1" cy="596.8" r="1.75" fill="#2020ee"/>
<circle cx="457.4" cy="599.4" r="1.75" fill="#2020ee"/>
<circle cx="465.6" cy="601.0" r="1.75" fill="#2020ee"/>
<circle cx="477.4" cy="600.5" r="1.75" fill="#2020ee"/>
<circle cx="473.2" cy="602.3" r="1.75" fill="#2020ee"/>
<circle cx="471.2" cy="604.0" r="1.75" fill="#2020ee"/>
<circle cx="472.2" cy="606.0" r="1.75" fill="#2020ee"/>
<circle cx="464.3" cy="607.9" r="1.75" fill="#2020ee"/>
<circle cx="472.7" cy="607.4" r="1.75" fill="#2020ee"/>
<circle cx="478.1" cy="609.4" r="1.75" fill="#2020ee"/>
<circle cx="466.3" cy="611.4" r="1.75" fill="#2020ee"/>
<circle cx="474.6" cy="610.4" r="1.75" fill="#2020ee"/>
<circle cx="478.1" cy="613.3" r="1.75" fill="#2020ee"/>
<circle cx="471.5" cy="616.1" r="1.75" fill="#2020ee"/>
<circle cx="477.8" cy="617.8" r="1.75" fill="#2020ee"/>
<circle cx="479.4" cy="620.2" r="1.75" fill="#2020ee"/>
<circle cx="472.9" cy="623.0" r="1.75" fill="#2020ee"/>
<circle cx="475.4" cy="624.2" r="1.75" fill="#2020ee"/>
<circle cx="463.3" cy="625.0" r="1.75" fill="#2020ee"/>
<circle cx="474.6" cy="627.4" r="1.75" fill="#2020ee"/>
<circle cx="506.5" cy="562.9" r="1.75" fill="#ee2020"/>
<circle cx="507.9" cy="576.4" r="1.75" fill="#ee2020"/>
<circle cx="507.7" cy="574.9" r="1.75" fill="#ee2020"/>
<circle cx="505.8" cy="576.9" r="1.75" fill="#ee2020"/>
<circle cx="504.3" cy="578.4" r="1.75" fill="#ee2020"/>
<circle cx="499.9" cy="579.9" r="1.75" fill="#ee2020"/>
<circle cx="500.3" cy="584.8" r="1.75" fill="#ee2020"/>
<circle cx="504.3" cy="581.8" r="1.75" fill="#ee2020"/>
<circle cx="499.4" cy="585.3" r="1.75" fill="#ee2020"/>
<circle cx="507.2" cy="587.7" r="1.75" fill="#ee2020"/>
<circle cx="507.7" cy="593.6" r="1.75" fill="#ee2020"/>
<circle cx="500.3" cy="598.1" r="1.75" fill="#ee2020"/>
<circle cx="502.8" cy="599.6" r="1.75" fill="#ee2020"/>
<circle cx="505.3" cy="599.1" r="1.75" fill="#ee2020"/>
<circle cx="507.2" cy="599.1" r="1.75" fill="#ee2020"/>
<circle cx="503.3" cy="601.0" r="1.75" fill="#ee2020"/>
<circle cx="501.6" cy="604.5" r="1.75" fill="#ee2020"/>
<circle cx="503.8" cy="606.0" r="1.75" fill="#ee2020"/>
<circle cx="502.3" cy="607.4" r="1.75" fill="#ee2020"/>
<circle cx="502.3" cy="610.4" r="1.75" fill="#ee2020"/>
<circle cx="501.8" cy="613.3" r="1.75" fill="#ee2020"/>
<circle cx="502.8" cy="615.8" r="1.75" fill="#ee2020"/>
<circle cx="513.6" cy="611.4" r="1.75" fill="#ee2020"/>
<circle cx="518.6" cy="616.8" r="1.75" fill="#ee2020"/>
<circle cx="498.4" cy="617.8" r="1.75" fill="#ee2020"/>
<circle cx="499.9" cy="619.3" r="1.75" fill="#ee2020"/>
<circle cx="509.7" cy="621.7" r="1.75" fill="#ee2020"/>
<circle cx="516.1" cy="621.7" r="1.75" fill="#ee2020"/>
<circle cx="515.4" cy="623.7" r="1.75" fill="#ee2020"/>
<circle cx="499.9" cy="624.2" r="1.75" fill="#ee2020"/>
<circle cx="501.8" cy="623.7" r="1.75" fill="#ee2020"/>
<circle cx="503.8" cy="624.2" r="1.75" fill="#ee2020"/>
<circle cx="506.3" cy="624.7" r="1.75" fill="#ee2020"/>
<circle cx="500.3" cy="626.7" r="1.75" fill="#ee2020"/>
<circle cx="502.8" cy="626.7" r="1.75" fill="#ee2020"/>
<circle cx="505.3" cy="626.7" r="1.75" fill="#ee2020"/>
<circle cx="507.2" cy="625.7" r="1.75" fill="#ee2020"/>
<circle cx="500.8" cy="628.6" r="1.75" fill="#ee2020"/>
<circle cx="503.8" cy="628.6" r="1.75" fill="#ee2020"/>
<circle cx="546.4" cy="627.8" r="1.75" fill="#ee2020"/>
<circle cx="593.2" cy="613.8" r="1.75" fill="#ee2020"/>
<text x="475.80" y="506.30" font-size="7.6" fill="#2222dd" text-anchor="start" font-family='"Liberation Sans", sans-serif' stroke="#2222dd" stroke-width="0.25">CLSTN1</text>
<text x="456.90" y="517.90" font-size="7.6" fill="#2222dd" text-anchor="start" font-family='"Liberation Sans", sans-serif' stroke="#2222dd" stroke-width="0.25">SPOCK1</text>
<text x="418.50" y="536.50" font-size="7.6" fill="#2222dd" text-anchor="start" font-family='"Liberation Sans", sans-serif' stroke="#2222dd" stroke-width="0.25">APLP2</text>
<text x="460.80" y="536.50" font-size="7.6" fill="#2222dd" text-anchor="start" font-family='"Liberation Sans", sans-serif' stroke="#2222dd" stroke-width="0.25">APP</text>
<text x="442.50" y="548.10" font-size="7.6" fill="#2222dd" text-anchor="start" font-family='"Liberation Sans", sans-serif' stroke="#2222dd" stroke-width="0.25">RBP3</text>
<text x="467.40" y="548.90" font-size="7.6" fill="#2222dd" text-anchor="start" font-family='"Liberation Sans", sans-serif' stroke="#2222dd" stroke-width="0.25">CPE</text>
<text x="445.10" y="559.40" font-size="7.6" fill="#2222dd" text-anchor="start" font-family='"Liberation Sans", sans-serif' stroke="#2222dd" stroke-width="0.25">SCG3</text>
<text x="471.10" y="559.40" font-size="7.6" fill="#2222dd" text-anchor="start" font-family='"Liberation Sans", sans-serif' stroke="#2222dd" stroke-width="0.25">NRCAM</text>
<text x="440.40" y="572.50" font-size="7.6" fill="#2222dd" text-anchor="start" font-family='"Liberation Sans", sans-serif' stroke="#2222dd" stroke-width="0.25">CHGA</text>
<text x="491.60" y="571.20" font-size="7.6" fill="#2222dd" text-anchor="start" font-family='"Liberation Sans", sans-serif' stroke="#2222dd" stroke-width="0.25">BTD</text>
<text x="504.40" y="556.60" font-size="7.6" fill="#e82626" text-anchor="start" font-family='"Liberation Sans", sans-serif' stroke="#e82626" stroke-width="0.25">AZGP1</text>
<text x="535.10" y="566.80" font-size="7.6" fill="#e82626" text-anchor="start" font-family='"Liberation Sans", sans-serif' stroke="#e82626" stroke-width="0.25">SERPINA7</text>
<text x="512.00" y="576.40" font-size="7.6" fill="#e82626" text-anchor="start" font-family='"Liberation Sans", sans-serif' stroke="#e82626" stroke-width="0.25">PPIA</text>
<text x="468.40" y="580.50" font-size="7.6" fill="#e82626" text-anchor="start" font-family='"Liberation Sans", sans-serif' stroke="#e82626" stroke-width="0.25">SERPINA1</text>
<text x="511.60" y="587.30" font-size="7.6" fill="#e82626" text-anchor="start" font-family='"Liberation Sans", sans-serif' stroke="#e82626" stroke-width="0.25">LRG1</text>
<text x="482.30" y="592.40" font-size="7.6" fill="#e82626" text-anchor="start" font-family='"Liberation Sans", sans-serif' stroke="#e82626" stroke-width="0.25">ORM2</text>
<text x="462.90" y="595.40" font-size="7.6" fill="#e82626" text-anchor="start" font-family='"Liberation Sans", sans-serif' stroke="#e82626" stroke-width="0.25">SERPINA4</text>
<text x="510.50" y="598.30" font-size="7.6" fill="#e82626" text-anchor="start" font-family='"Liberation Sans", sans-serif' stroke="#e82626" stroke-width="0.25">RBP4</text>
<text x="487.40" y="606.50" font-size="7.6" fill="#e82626" text-anchor="start" font-family='"Liberation Sans", sans-serif' stroke="#e82626" stroke-width="0.25">GC</text>
<text x="516.70" y="609.10" font-size="7.6" fill="#e82626" text-anchor="start" font-family='"Liberation Sans", sans-serif' stroke="#e82626" stroke-width="0.25">APOA4</text>
<rect x="365.5" y="498.0" width="247.89999999999998" height="179.79999999999995" fill="none" stroke="#6e6e6e" stroke-width="1"/>
<rect x="365.5" y="479.2" width="247.89999999999998" height="18.80000000000001" fill="#d9d9d9" stroke="#5a5a5a" stroke-width="1"/>
<line x1="365.50" y1="498.00" x2="613.40" y2="498.00" stroke="#555" stroke-width="1.3" />
<text x="489.45" y="492.10" font-size="9.9" fill="#1a1a1a" text-anchor="middle" font-family='"Liberation Sans", sans-serif' >Volcano Plot</text>
<text x="335.50" y="502.80" font-size="17" fill="#111" text-anchor="start" font-family='"Liberation Sans", sans-serif' >E</text>
<line x1="361.80" y1="670.10" x2="365.50" y2="670.10" stroke="#333" stroke-width="1.2" />
<text x="359.50" y="673.70" font-size="10.1" fill="#4d4d4d" text-anchor="end" font-family='"Liberation Sans", sans-serif' >0</text>
<line x1="361.80" y1="609.20" x2="365.50" y2="609.20" stroke="#333" stroke-width="1.2" />
<text x="359.50" y="612.80" font-size="10.1" fill="#4d4d4d" text-anchor="end" font-family='"Liberation Sans", sans-serif' >2</text>
<line x1="361.80" y1="548.30" x2="365.50" y2="548.30" stroke="#333" stroke-width="1.2" />
<text x="359.50" y="551.90" font-size="10.1" fill="#4d4d4d" text-anchor="end" font-family='"Liberation Sans", sans-serif' >4</text>
<line x1="396.30" y1="677.80" x2="396.30" y2="681.40" stroke="#333" stroke-width="1.2" />
<text x="396.30" y="691.80" font-size="10.1" fill="#4d4d4d" text-anchor="middle" font-family='"Liberation Sans", sans-serif' >-10</text>
<line x1="443.00" y1="677.80" x2="443.00" y2="681.40" stroke="#333" stroke-width="1.2" />
<text x="443.00" y="691.80" font-size="10.1" fill="#4d4d4d" text-anchor="middle" font-family='"Liberation Sans", sans-serif' >-5</text>
<line x1="489.70" y1="677.80" x2="489.70" y2="681.40" stroke="#333" stroke-width="1.2" />
<text x="489.70" y="691.80" font-size="10.1" fill="#4d4d4d" text-anchor="middle" font-family='"Liberation Sans", sans-serif' >0</text>
<line x1="536.40" y1="677.80" x2="536.40" y2="681.40" stroke="#333" stroke-width="1.2" />
<text x="536.40" y="691.80" font-size="10.1" fill="#4d4d4d" text-anchor="middle" font-family='"Liberation Sans", sans-serif' >5</text>
<line x1="583.10" y1="677.80" x2="583.10" y2="681.40" stroke="#333" stroke-width="1.2" />
<text x="583.10" y="691.80" font-size="10.1" fill="#4d4d4d" text-anchor="middle" font-family='"Liberation Sans", sans-serif' >10</text>
<text x="490.95" y="703.80" font-size="12.4" fill="#1a1a1a" text-anchor="middle" font-family='"Liberation Sans", sans-serif'>log<tspan font-size="8" dy="0.5">2</tspan><tspan dy="-0.5">(TRD/Control)</tspan></text>
<text x="0" y="0" font-size="8.4" fill="#000" text-anchor="middle" font-family='"Liberation Sans", sans-serif' transform="translate(348.8 587.90) rotate(-90)">-log10(p-value)</text>
<text x="632.80" y="570.90" font-size="6.9" fill="#111" text-anchor="start" font-family='"Liberation Sans", sans-serif' >Regulated Type</text>
<circle cx="639" cy="581.4" r="1.7" fill="#ee2020"/>
<text x="648.30" y="583.40" font-size="5.75" fill="#222" text-anchor="start" font-family='"Liberation Sans", sans-serif' >up</text>
<circle cx="639" cy="593.5" r="1.7" fill="#2020ee"/>
<text x="648.30" y="595.50" font-size="5.75" fill="#222" text-anchor="start" font-family='"Liberation Sans", sans-serif' >down</text>
<circle cx="639" cy="605.7" r="1.7" fill="#bebebe"/>
<text x="648.30" y="607.70" font-size="5.75" fill="#222" text-anchor="start" font-family='"Liberation Sans", sans-serif' >unchange</text>
</svg>
</body></html>
